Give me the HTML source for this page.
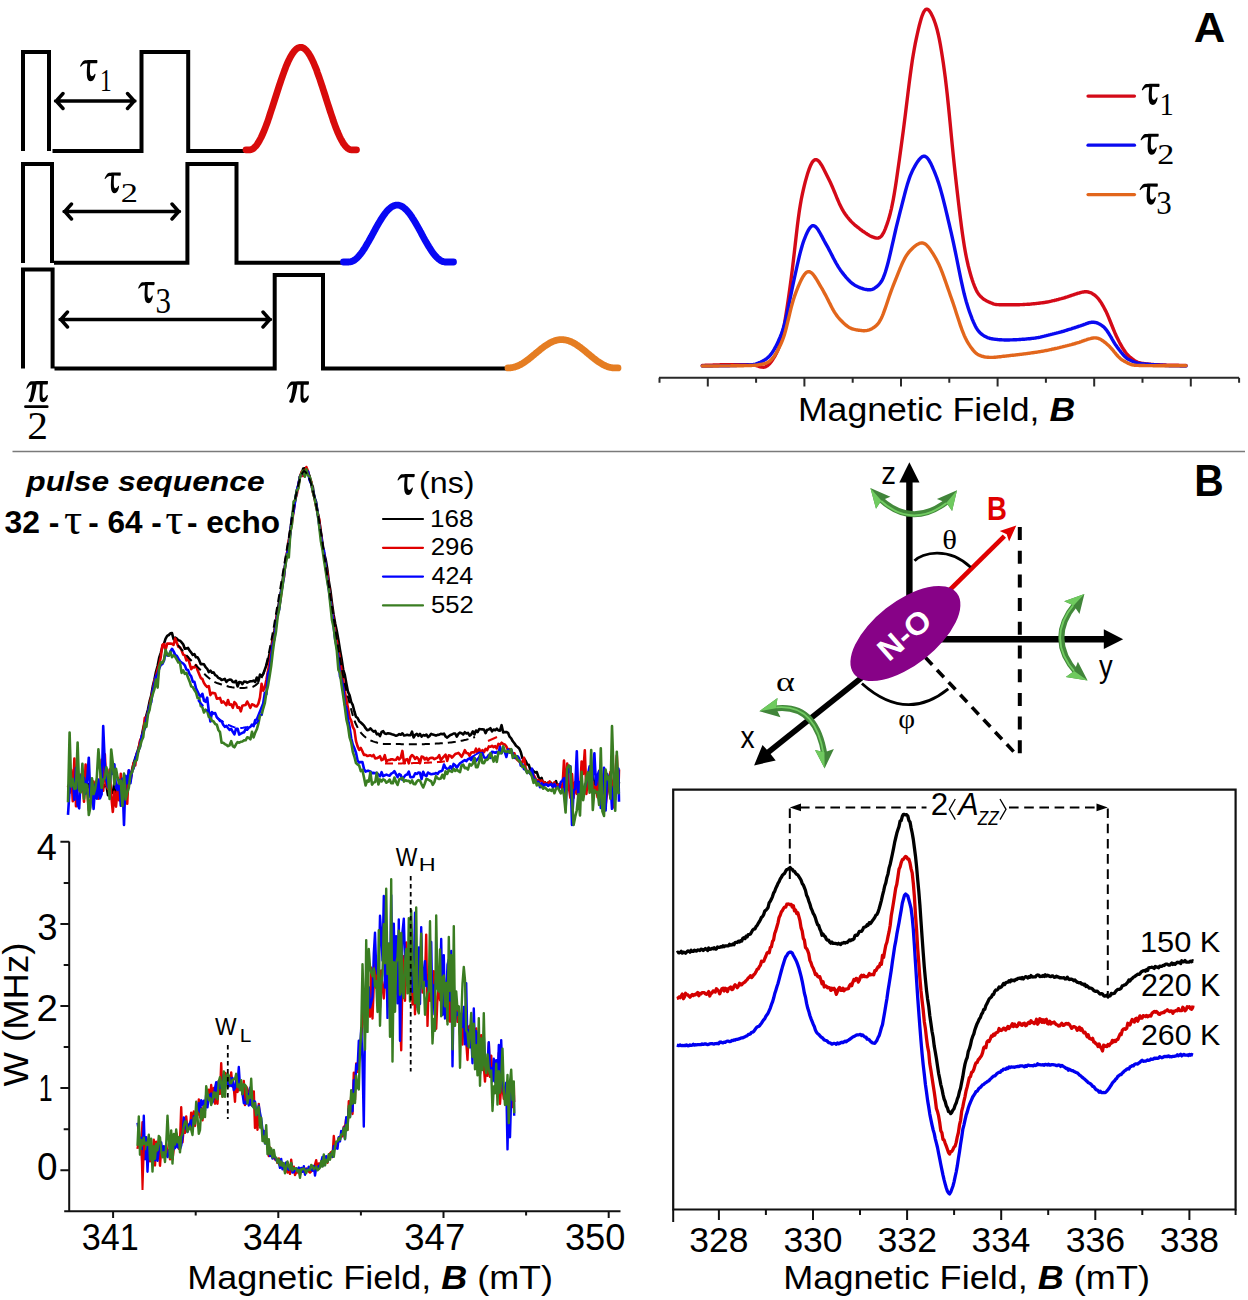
<!DOCTYPE html>
<html><head><meta charset="utf-8"><title>figure</title><style>
html,body{margin:0;padding:0;background:#fff;}
body{width:1248px;height:1300px;overflow:hidden;}
svg{display:block;}
</style></head><body>
<svg width="1248" height="1300" viewBox="0 0 1248 1300" font-family="Liberation Sans">
<path d="M23 151V52H49V151M52.5 150.9H141.5V52H188.2V150.9H246M23 263V164H52V263M54 262.7H187.4V164H236.5V262.7H344M23 368.5V269.5H52.6V368.5M54.5 368.5H274.7V275H323V368.5H509" fill="none" stroke="#000" stroke-width="4" stroke-linejoin="miter"/>
<path d="M55.5 101H135M63.0 93.5L56.3 101L63.0 108.5M127.5 93.5L134.2 101L127.5 108.5M64 211.5H179.5M71.5 204.0L64.8 211.5L71.5 219.0M172.0 204.0L178.7 211.5L172.0 219.0M60 319.5H270.5M67.5 312.0L60.8 319.5L67.5 327.0M263.0 312.0L269.7 319.5L263.0 327.0" fill="none" stroke="#000" stroke-width="3.4" stroke-linecap="round" stroke-linejoin="round"/>
<path transform="translate(80.10 60.10) scale(0.03100 0.03188)" d="M130 10C200 0 400 5 540 0C555 0 560 15 558 50C556 85 548 100 530 100L330 95C318 200 312 330 322 430C330 500 380 520 420 490C450 465 470 430 480 425C500 420 500 450 495 470C470 580 420 665 350 665C270 665 225 600 218 480C212 350 225 200 235 110C190 110 150 112 120 125C80 140 50 180 25 205C10 215 -5 195 3 180C30 120 80 30 130 10Z" fill="#000"/>
<text transform="translate(99.89 90.90) scale(0.2343 0.3136)" font-family="Liberation Serif" font-weight="normal" font-style="normal" font-size="100" fill="#000" >1</text>
<path transform="translate(104.60 172.60) scale(0.02903 0.03113)" d="M130 10C200 0 400 5 540 0C555 0 560 15 558 50C556 85 548 100 530 100L330 95C318 200 312 330 322 430C330 500 380 520 420 490C450 465 470 430 480 425C500 420 500 450 495 470C470 580 420 665 350 665C270 665 225 600 218 480C212 350 225 200 235 110C190 110 150 112 120 125C80 140 50 180 25 205C10 215 -5 195 3 180C30 120 80 30 130 10Z" fill="#000"/>
<text transform="translate(120.82 202.03) scale(0.3439 0.2687)" font-family="Liberation Serif" font-weight="normal" font-style="normal" font-size="100" fill="#000" >2</text>
<path transform="translate(138.20 282.00) scale(0.02939 0.03203)" d="M130 10C200 0 400 5 540 0C555 0 560 15 558 50C556 85 548 100 530 100L330 95C318 200 312 330 322 430C330 500 380 520 420 490C450 465 470 430 480 425C500 420 500 450 495 470C470 580 420 665 350 665C270 665 225 600 218 480C212 350 225 200 235 110C190 110 150 112 120 125C80 140 50 180 25 205C10 215 -5 195 3 180C30 120 80 30 130 10Z" fill="#000"/>
<text transform="translate(155.45 312.74) scale(0.3098 0.3552)" font-family="Liberation Serif" font-weight="normal" font-style="normal" font-size="100" fill="#000" >3</text>
<path transform="translate(26.30 381.00) scale(0.06824 0.06928)" d="M65 5C130 0 250 2 310 0C318 0 318 10 317 25C316 45 312 52 300 52L242 52C238 110 236 170 238 215C240 245 258 255 278 235L300 205C312 195 318 205 315 220C305 270 280 305 245 305C210 305 195 280 195 230C195 170 195 110 197 52L150 52C143 120 125 190 108 245C100 268 92 288 80 300C68 312 35 305 32 290C30 275 45 260 55 240C68 200 80 120 88 52C78 52 68 55 55 62C40 72 25 90 12 110C5 118 -2 108 2 100C15 60 35 20 65 5Z" fill="#000"/>
<text transform="translate(27.34 439.21) scale(0.4146 0.3925)" font-family="Liberation Serif" font-weight="normal" font-style="normal" font-size="100" fill="#000" >2</text>
<path d="M25.5 406.7H47.2" stroke="#000" stroke-width="2.8" stroke-linecap="round"/>
<path transform="translate(287.00 381.20) scale(0.06918 0.07059)" d="M65 5C130 0 250 2 310 0C318 0 318 10 317 25C316 45 312 52 300 52L242 52C238 110 236 170 238 215C240 245 258 255 278 235L300 205C312 195 318 205 315 220C305 270 280 305 245 305C210 305 195 280 195 230C195 170 195 110 197 52L150 52C143 120 125 190 108 245C100 268 92 288 80 300C68 312 35 305 32 290C30 275 45 260 55 240C68 200 80 120 88 52C78 52 68 55 55 62C40 72 25 90 12 110C5 118 -2 108 2 100C15 60 35 20 65 5Z" fill="#000"/>
<path d="M246 149.8L246.8 149.8L247.6 149.8L248.4 149.8L249.2 149.8L250 149.8L250.8 149.7L251.6 149.4L252.4 149.1L253.2 148.6L253.9 148L254.7 147.2L255.5 146.4L256.3 145.5L257.1 144.4L257.9 143.2L258.7 141.9L259.5 140.5L260.3 139L261.1 137.5L261.9 135.8L262.7 134L263.5 132.2L264.3 130.2L265.1 128.2L265.9 126.1L266.7 124L267.5 121.8L268.3 119.5L269.1 117.2L269.8 114.8L270.6 112.4L271.4 110L272.2 107.6L273 105.1L273.8 102.6L274.6 100.1L275.4 97.6L276.2 95.1L277 92.6L277.8 90.1L278.6 87.6L279.4 85.2L280.2 82.8L281 80.4L281.8 78.1L282.6 75.8L283.4 73.6L284.2 71.4L285 69.3L285.7 67.3L286.5 65.3L287.3 63.5L288.1 61.7L288.9 60L289.7 58.4L290.5 56.9L291.3 55.5L292.1 54.2L292.9 53L293.7 51.9L294.5 50.9L295.3 50L296.1 49.3L296.9 48.6L297.7 48.1L298.5 47.7L299.3 47.5L300.1 47.3L300.9 47.3L301.6 47.4L302.4 47.6L303.2 48L304 48.4L304.8 49L305.6 49.7L306.4 50.6L307.2 51.5L308 52.5L308.8 53.7L309.6 55L310.4 56.3L311.2 57.8L312 59.4L312.8 61.1L313.6 62.8L314.4 64.7L315.2 66.6L316 68.6L316.8 70.6L317.5 72.8L318.3 75L319.1 77.2L319.9 79.5L320.7 81.9L321.5 84.3L322.3 86.7L323.1 89.2L323.9 91.6L324.7 94.1L325.5 96.6L326.3 99.2L327.1 101.7L327.9 104.2L328.7 106.6L329.5 109.1L330.3 111.6L331.1 114L331.9 116.3L332.7 118.7L333.4 121L334.2 123.2L335 125.4L335.8 127.5L336.6 129.5L337.4 131.5L338.2 133.3L339 135.1L339.8 136.9L340.6 138.5L341.4 140L342.2 141.4L343 142.8L343.8 144L344.6 145.1L345.4 146.1L346.2 147L347 147.7L347.8 148.4L348.6 148.9L349.3 149.3L350.1 149.6L350.9 149.8L351.7 149.8L352.5 149.8L353.3 149.8L354.1 149.8L354.9 149.8L355.7 149.8L356.5 149.8" fill="none" stroke="#d80b0b" stroke-width="6.8" stroke-linecap="round" stroke-linejoin="round"/>
<path d="M343.5 262L344.3 262L345.1 262L345.9 262L346.7 262L347.5 262L348.2 262L349 262L349.8 261.9L350.6 261.8L351.4 261.6L352.2 261.3L353 260.9L353.8 260.5L354.6 260L355.4 259.4L356.2 258.7L357 258L357.7 257.3L358.5 256.4L359.3 255.5L360.1 254.6L360.9 253.6L361.7 252.5L362.5 251.4L363.3 250.2L364.1 249L364.9 247.8L365.7 246.5L366.4 245.2L367.2 243.8L368 242.5L368.8 241.1L369.6 239.6L370.4 238.2L371.2 236.8L372 235.3L372.8 233.9L373.6 232.4L374.4 230.9L375.2 229.5L375.9 228.1L376.7 226.6L377.5 225.2L378.3 223.9L379.1 222.5L379.9 221.2L380.7 219.9L381.5 218.6L382.3 217.4L383.1 216.2L383.9 215.1L384.7 214L385.4 213L386.2 212L387 211.1L387.8 210.2L388.6 209.4L389.4 208.7L390.2 208L391 207.4L391.8 206.8L392.6 206.4L393.4 206L394.1 205.7L394.9 205.4L395.7 205.2L396.5 205.1L397.3 205.1L398.1 205.1L398.9 205.3L399.7 205.5L400.5 205.7L401.3 206.1L402.1 206.5L402.9 207L403.6 207.5L404.4 208.2L405.2 208.9L406 209.6L406.8 210.4L407.6 211.3L408.4 212.3L409.2 213.2L410 214.3L410.8 215.4L411.6 216.5L412.3 217.7L413.1 219L413.9 220.2L414.7 221.5L415.5 222.9L416.3 224.2L417.1 225.6L417.9 227L418.7 228.5L419.5 229.9L420.3 231.4L421.1 232.8L421.8 234.3L422.6 235.7L423.4 237.2L424.2 238.6L425 240.1L425.8 241.5L426.6 242.9L427.4 244.2L428.2 245.6L429 246.9L429.8 248.1L430.6 249.4L431.3 250.6L432.1 251.7L432.9 252.8L433.7 253.8L434.5 254.8L435.3 255.8L436.1 256.7L436.9 257.5L437.7 258.2L438.5 258.9L439.3 259.6L440 260.1L440.8 260.6L441.6 261L442.4 261.4L443.2 261.6L444 261.8L444.8 262L445.6 262L446.4 262L447.2 262L448 262L448.8 262L449.5 262L450.3 262L451.1 262L451.9 262L452.7 262L453.5 262" fill="none" stroke="#0808f4" stroke-width="6.8" stroke-linecap="round" stroke-linejoin="round"/>
<path d="M508 367.9L508.8 367.9L509.6 367.9L510.4 367.8L511.2 367.7L512 367.6L512.7 367.5L513.5 367.3L514.3 367.1L515.1 366.9L515.9 366.6L516.7 366.3L517.5 366L518.3 365.7L519.1 365.3L519.9 364.9L520.7 364.5L521.5 364L522.2 363.6L523 363.1L523.8 362.6L524.6 362.1L525.4 361.5L526.2 360.9L527 360.4L527.8 359.8L528.6 359.2L529.4 358.5L530.2 357.9L530.9 357.3L531.7 356.6L532.5 356L533.3 355.3L534.1 354.7L534.9 354L535.7 353.3L536.5 352.7L537.3 352L538.1 351.4L538.9 350.7L539.7 350.1L540.4 349.4L541.2 348.8L542 348.2L542.8 347.6L543.6 347L544.4 346.4L545.2 345.8L546 345.3L546.8 344.8L547.6 344.3L548.4 343.8L549.2 343.3L549.9 342.9L550.7 342.5L551.5 342.1L552.3 341.7L553.1 341.4L553.9 341.1L554.7 340.8L555.5 340.6L556.3 340.3L557.1 340.1L557.9 340L558.6 339.8L559.4 339.7L560.2 339.7L561 339.6L561.8 339.6L562.6 339.6L563.4 339.7L564.2 339.8L565 339.9L565.8 340L566.6 340.2L567.4 340.4L568.1 340.6L568.9 340.9L569.7 341.2L570.5 341.5L571.3 341.8L572.1 342.2L572.9 342.6L573.7 343L574.5 343.5L575.3 343.9L576.1 344.4L576.8 344.9L577.6 345.5L578.4 346L579.2 346.6L580 347.2L580.8 347.7L581.6 348.4L582.4 349L583.2 349.6L584 350.2L584.8 350.9L585.6 351.5L586.3 352.2L587.1 352.9L587.9 353.5L588.7 354.2L589.5 354.8L590.3 355.5L591.1 356.2L591.9 356.8L592.7 357.5L593.5 358.1L594.3 358.7L595.1 359.3L595.8 359.9L596.6 360.5L597.4 361.1L598.2 361.7L599 362.2L599.8 362.7L600.6 363.2L601.4 363.7L602.2 364.2L603 364.6L603.8 365L604.5 365.4L605.3 365.8L606.1 366.1L606.9 366.4L607.7 366.7L608.5 367L609.3 367.2L610.1 367.4L610.9 367.5L611.7 367.7L612.5 367.8L613.3 367.8L614 367.9L614.8 367.9L615.6 367.9L616.4 367.9L617.2 367.9L618 367.9" fill="none" stroke="#e57d22" stroke-width="6.8" stroke-linecap="round" stroke-linejoin="round"/>
<path d="M702.3 365.5L703.3 365.4L704.3 365.4L705.3 365.3L706.3 365.3L707.3 365.3L708.3 365.2L709.3 365.2L710.3 365.1L711.3 365.1L712.3 365.1L713.3 365L714.3 365L715.3 365L716.3 364.9L717.3 364.9L718.3 364.9L719.3 364.9L720.3 364.8L721.3 364.8L722.3 364.8L723.3 364.8L724.3 364.8L725.3 364.7L726.3 364.7L727.3 364.7L728.3 364.7L729.3 364.7L730.3 364.7L731.3 364.7L732.3 364.7L733.3 364.6L734.3 364.6L735.3 364.6L736.3 364.6L737.3 364.6L738.3 364.6L739.3 364.6L740.3 364.6L741.3 364.6L742.3 364.6L743.3 364.6L744.3 364.6L745.3 364.6L746.3 364.6L747.3 364.6L748.3 364.6L749.3 364.6L750.3 364.6L751.3 364.7L752.3 364.8L753.3 364.9L754.3 365.1L755.3 365.4L756.3 365.6L757.3 365.9L758.3 366.2L759.3 366.5L760.3 366.8L761.3 367L762.3 367.1L763.3 367.2L764.3 367.1L765.3 366.8L766.3 366.4L767.3 365.8L768.3 365L769.3 364.1L770.3 362.9L771.3 361.7L772.3 360.3L773.3 358.7L774.3 357.1L775.3 355.3L776.3 353.4L777.3 351.3L778.3 348.9L779.3 346.3L780.3 343.1L781.3 339.5L782.3 335.2L783.3 330.3L784.3 324.9L785.3 318.9L786.3 312.6L787.3 306L788.3 299.2L789.3 292.2L790.3 285L791.3 277.4L792.3 269.6L793.3 261.3L794.3 252.6L795.3 243.8L796.3 235L797.3 226.4L798.3 218.5L799.3 211.2L800.3 204.9L801.3 199.3L802.3 194.3L803.3 189.8L804.3 185.6L805.3 181.7L806.3 178.1L807.3 174.6L808.3 171.5L809.3 168.6L810.3 166.1L811.3 164L812.3 162.2L813.3 160.9L814.3 160L815.3 159.6L816.3 159.6L817.3 160L818.3 160.8L819.3 161.8L820.3 163.2L821.3 164.7L822.3 166.4L823.3 168.3L824.3 170.2L825.3 172.2L826.3 174.2L827.3 176.2L828.3 178.2L829.3 180.2L830.3 182.3L831.3 184.5L832.3 186.8L833.3 189.1L834.3 191.5L835.3 193.9L836.3 196.3L837.3 198.8L838.3 201.1L839.3 203.4L840.3 205.5L841.3 207.5L842.3 209.4L843.3 211.2L844.3 212.8L845.3 214.3L846.3 215.6L847.3 217L848.3 218.2L849.3 219.4L850.3 220.5L851.3 221.6L852.3 222.6L853.3 223.6L854.3 224.5L855.3 225.4L856.3 226.2L857.3 227L858.3 227.7L859.3 228.5L860.3 229.3L861.3 230L862.3 230.8L863.3 231.5L864.3 232.2L865.3 232.9L866.3 233.5L867.3 234.2L868.3 234.8L869.3 235.4L870.3 235.9L871.3 236.4L872.3 236.8L873.3 237.2L874.3 237.5L875.3 237.8L876.3 238L877.3 238.1L878.3 238L879.3 237.7L880.3 237.1L881.3 236.2L882.3 234.9L883.3 233.2L884.3 231.2L885.3 228.8L886.3 226.2L887.3 223.4L888.3 220.3L889.3 216.9L890.3 213.2L891.3 209.1L892.3 204.4L893.3 199.3L894.3 193.6L895.3 187.4L896.3 180.9L897.3 174.1L898.3 167.1L899.3 159.9L900.3 152.7L901.3 145.5L902.3 138.1L903.3 130.6L904.3 122.8L905.3 114.9L906.3 106.8L907.3 98.6L908.3 90.4L909.3 82.4L910.3 74.7L911.3 67.4L912.3 60.6L913.3 54.4L914.3 48.7L915.3 43.4L916.3 38.6L917.3 34L918.3 29.6L919.3 25.5L920.3 21.7L921.3 18.3L922.3 15.3L923.3 12.9L924.3 11L925.3 9.8L926.3 9.2L927.3 9.2L928.3 9.8L929.3 10.8L930.3 12.2L931.3 13.9L932.3 15.9L933.3 18.1L934.3 20.7L935.3 23.5L936.3 26.7L937.3 30.3L938.3 34.5L939.3 39.2L940.3 44.4L941.3 50.2L942.3 56.4L943.3 63.1L944.3 70.2L945.3 77.8L946.3 86.1L947.3 95L948.3 104.5L949.3 114.5L950.3 124.8L951.3 135.3L952.3 145.6L953.3 155.6L954.3 165.2L955.3 174.5L956.3 183.5L957.3 192.3L958.3 200.9L959.3 209.3L960.3 217.5L961.3 225.3L962.3 232.7L963.3 239.6L964.3 246L965.3 251.8L966.3 257L967.3 261.7L968.3 266L969.3 269.9L970.3 273.5L971.3 276.9L972.3 280.1L973.3 283L974.3 285.7L975.3 288.1L976.3 290.2L977.3 292.1L978.3 293.7L979.3 295L980.3 296.2L981.3 297.1L982.3 298L983.3 298.8L984.3 299.5L985.3 300.1L986.3 300.7L987.3 301.2L988.3 301.7L989.3 302.2L990.3 302.6L991.3 303L992.3 303.4L993.3 303.8L994.3 304.1L995.3 304.3L996.3 304.5L997.3 304.6L998.3 304.6L999.3 304.7L1000.3 304.7L1001.3 304.7L1002.3 304.7L1003.3 304.7L1004.3 304.7L1005.3 304.7L1006.3 304.7L1007.3 304.7L1008.3 304.7L1009.3 304.7L1010.3 304.7L1011.3 304.7L1012.3 304.7L1013.3 304.7L1014.3 304.7L1015.3 304.7L1016.3 304.7L1017.3 304.7L1018.3 304.7L1019.3 304.7L1020.3 304.6L1021.3 304.6L1022.3 304.6L1023.3 304.5L1024.3 304.5L1025.3 304.4L1026.3 304.4L1027.3 304.3L1028.3 304.2L1029.3 304.2L1030.3 304.1L1031.3 304L1032.3 303.9L1033.3 303.8L1034.3 303.7L1035.3 303.6L1036.3 303.5L1037.3 303.4L1038.3 303.3L1039.3 303.2L1040.3 303L1041.3 302.9L1042.3 302.8L1043.3 302.7L1044.3 302.5L1045.3 302.3L1046.3 302.2L1047.3 302L1048.3 301.8L1049.3 301.6L1050.3 301.4L1051.3 301.2L1052.3 300.9L1053.3 300.7L1054.3 300.5L1055.3 300.2L1056.3 300L1057.3 299.7L1058.3 299.5L1059.3 299.2L1060.3 298.9L1061.3 298.7L1062.3 298.4L1063.3 298.1L1064.3 297.8L1065.3 297.5L1066.3 297.2L1067.3 296.9L1068.3 296.5L1069.3 296.2L1070.3 295.8L1071.3 295.5L1072.3 295.1L1073.3 294.8L1074.3 294.5L1075.3 294.1L1076.3 293.8L1077.3 293.5L1078.3 293.2L1079.3 293L1080.3 292.7L1081.3 292.4L1082.3 292.2L1083.3 292L1084.3 291.8L1085.3 291.7L1086.3 291.7L1087.3 291.8L1088.3 292L1089.3 292.3L1090.3 292.6L1091.3 293.1L1092.3 293.6L1093.3 294.3L1094.3 294.9L1095.3 295.7L1096.3 296.6L1097.3 297.6L1098.3 298.7L1099.3 300L1100.3 301.4L1101.3 302.9L1102.3 304.6L1103.3 306.3L1104.3 308.2L1105.3 310.1L1106.3 312.1L1107.3 314.3L1108.3 316.6L1109.3 319L1110.3 321.5L1111.3 324L1112.3 326.5L1113.3 329L1114.3 331.4L1115.3 333.8L1116.3 336L1117.3 338.1L1118.3 340.1L1119.3 342L1120.3 343.8L1121.3 345.6L1122.3 347.4L1123.3 349L1124.3 350.5L1125.3 352L1126.3 353.3L1127.3 354.5L1128.3 355.6L1129.3 356.5L1130.3 357.4L1131.3 358.2L1132.3 359L1133.3 359.7L1134.3 360.4L1135.3 361L1136.3 361.5L1137.3 362L1138.3 362.4L1139.3 362.7L1140.3 363L1141.3 363.2L1142.3 363.4L1143.3 363.5L1144.3 363.7L1145.3 363.8L1146.3 363.9L1147.3 364L1148.3 364.2L1149.3 364.2L1150.3 364.3L1151.3 364.4L1152.3 364.5L1153.3 364.5L1154.3 364.6L1155.3 364.7L1156.3 364.7L1157.3 364.7L1158.3 364.8L1159.3 364.8L1160.3 364.9L1161.3 364.9L1162.3 364.9L1163.3 365L1164.3 365L1165.3 365L1166.3 365.1L1167.3 365.1L1168.3 365.1L1169.3 365.2L1170.3 365.2L1171.3 365.2L1172.3 365.2L1173.3 365.3L1174.3 365.3L1175.3 365.3L1176.3 365.3L1177.3 365.3L1178.3 365.3L1179.3 365.4L1180.3 365.4L1181.3 365.4L1182.3 365.4L1183.3 365.4L1184.3 365.4L1185.3 365.4L1186 365.4" fill="none" stroke="#d40a18" stroke-width="3.4" stroke-linejoin="round" stroke-linecap="round"/>
<path d="M702.3 366L703.3 366L704.3 366L705.3 366L706.3 366L707.3 366L708.3 366L709.3 366L710.3 366L711.3 366L712.3 366L713.3 365.9L714.3 365.9L715.3 365.9L716.3 365.9L717.3 365.9L718.3 365.9L719.3 365.9L720.3 365.9L721.3 365.8L722.3 365.8L723.3 365.8L724.3 365.8L725.3 365.8L726.3 365.7L727.3 365.7L728.3 365.7L729.3 365.7L730.3 365.6L731.3 365.6L732.3 365.6L733.3 365.6L734.3 365.5L735.3 365.5L736.3 365.5L737.3 365.4L738.3 365.4L739.3 365.4L740.3 365.3L741.3 365.3L742.3 365.2L743.3 365.2L744.3 365.2L745.3 365.1L746.3 365.1L747.3 365L748.3 365L749.3 364.9L750.3 364.8L751.3 364.8L752.3 364.6L753.3 364.5L754.3 364.3L755.3 364.1L756.3 363.8L757.3 363.5L758.3 363.1L759.3 362.7L760.3 362.3L761.3 361.8L762.3 361.3L763.3 360.7L764.3 360.1L765.3 359.5L766.3 358.8L767.3 358L768.3 357.2L769.3 356.2L770.3 355.1L771.3 353.8L772.3 352.4L773.3 350.8L774.3 349.2L775.3 347.4L776.3 345.4L777.3 343.4L778.3 341.3L779.3 339L780.3 336.6L781.3 334L782.3 331.2L783.3 328.1L784.3 324.7L785.3 320.8L786.3 316.7L787.3 312.2L788.3 307.5L789.3 302.6L790.3 297.7L791.3 292.8L792.3 288L793.3 283.2L794.3 278.5L795.3 274L796.3 269.5L797.3 265L798.3 260.7L799.3 256.4L800.3 252.4L801.3 248.7L802.3 245.2L803.3 242.1L804.3 239.3L805.3 236.8L806.3 234.4L807.3 232.3L808.3 230.4L809.3 228.7L810.3 227.4L811.3 226.4L812.3 225.8L813.3 225.7L814.3 225.9L815.3 226.5L816.3 227.5L817.3 228.7L818.3 230.1L819.3 231.8L820.3 233.5L821.3 235.4L822.3 237.2L823.3 239.1L824.3 241L825.3 242.8L826.3 244.6L827.3 246.4L828.3 248.2L829.3 250.1L830.3 252L831.3 254L832.3 255.9L833.3 257.9L834.3 259.8L835.3 261.7L836.3 263.5L837.3 265.2L838.3 266.9L839.3 268.4L840.3 269.9L841.3 271.3L842.3 272.6L843.3 273.9L844.3 275.2L845.3 276.4L846.3 277.6L847.3 278.7L848.3 279.8L849.3 280.8L850.3 281.8L851.3 282.7L852.3 283.5L853.3 284.2L854.3 284.9L855.3 285.5L856.3 286L857.3 286.5L858.3 286.9L859.3 287.4L860.3 287.8L861.3 288.1L862.3 288.5L863.3 288.8L864.3 289.1L865.3 289.3L866.3 289.5L867.3 289.7L868.3 289.8L869.3 289.8L870.3 289.7L871.3 289.6L872.3 289.3L873.3 288.9L874.3 288.4L875.3 287.7L876.3 287L877.3 286.2L878.3 285.3L879.3 284.2L880.3 283L881.3 281.6L882.3 279.8L883.3 277.7L884.3 275.2L885.3 272.3L886.3 269L887.3 265.5L888.3 261.7L889.3 257.6L890.3 253.4L891.3 249.1L892.3 244.7L893.3 240.3L894.3 235.8L895.3 231.5L896.3 227.2L897.3 223.1L898.3 219.1L899.3 215.1L900.3 211.2L901.3 207.3L902.3 203.4L903.3 199.5L904.3 195.6L905.3 191.8L906.3 188.1L907.3 184.6L908.3 181.4L909.3 178.4L910.3 175.7L911.3 173.3L912.3 171.1L913.3 169.1L914.3 167.2L915.3 165.4L916.3 163.7L917.3 162.1L918.3 160.7L919.3 159.4L920.3 158.3L921.3 157.4L922.3 156.7L923.3 156.3L924.3 156.2L925.3 156.5L926.3 157.1L927.3 158L928.3 159.3L929.3 160.8L930.3 162.6L931.3 164.6L932.3 166.8L933.3 169.1L934.3 171.4L935.3 173.9L936.3 176.5L937.3 179.2L938.3 182.1L939.3 185.3L940.3 188.6L941.3 192.1L942.3 195.8L943.3 199.6L944.3 203.6L945.3 207.7L946.3 211.8L947.3 216L948.3 220.3L949.3 224.5L950.3 228.8L951.3 233.2L952.3 237.6L953.3 242.1L954.3 246.8L955.3 251.6L956.3 256.5L957.3 261.5L958.3 266.5L959.3 271.5L960.3 276.4L961.3 281.1L962.3 285.7L963.3 290.1L964.3 294.3L965.3 298.1L966.3 301.7L967.3 305L968.3 308.2L969.3 311.2L970.3 314L971.3 316.7L972.3 319.3L973.3 321.7L974.3 323.9L975.3 326L976.3 327.8L977.3 329.4L978.3 330.8L979.3 332L980.3 333L981.3 333.9L982.3 334.7L983.3 335.4L984.3 336L985.3 336.6L986.3 337.1L987.3 337.6L988.3 337.9L989.3 338.2L990.3 338.5L991.3 338.7L992.3 338.8L993.3 339L994.3 339.1L995.3 339.3L996.3 339.4L997.3 339.5L998.3 339.6L999.3 339.7L1000.3 339.8L1001.3 339.8L1002.3 339.9L1003.3 339.9L1004.3 340L1005.3 340L1006.3 340L1007.3 340L1008.3 340L1009.3 340L1010.3 339.9L1011.3 339.9L1012.3 339.9L1013.3 339.8L1014.3 339.8L1015.3 339.7L1016.3 339.7L1017.3 339.6L1018.3 339.6L1019.3 339.5L1020.3 339.5L1021.3 339.4L1022.3 339.3L1023.3 339.2L1024.3 339.2L1025.3 339.1L1026.3 339L1027.3 338.9L1028.3 338.8L1029.3 338.8L1030.3 338.7L1031.3 338.5L1032.3 338.4L1033.3 338.3L1034.3 338.1L1035.3 338L1036.3 337.8L1037.3 337.6L1038.3 337.5L1039.3 337.3L1040.3 337.1L1041.3 336.8L1042.3 336.6L1043.3 336.4L1044.3 336.2L1045.3 335.9L1046.3 335.7L1047.3 335.4L1048.3 335.2L1049.3 334.9L1050.3 334.7L1051.3 334.4L1052.3 334.2L1053.3 333.9L1054.3 333.7L1055.3 333.4L1056.3 333.2L1057.3 332.9L1058.3 332.7L1059.3 332.4L1060.3 332.1L1061.3 331.8L1062.3 331.5L1063.3 331.3L1064.3 331L1065.3 330.6L1066.3 330.3L1067.3 330L1068.3 329.7L1069.3 329.4L1070.3 329.1L1071.3 328.8L1072.3 328.4L1073.3 328.1L1074.3 327.8L1075.3 327.5L1076.3 327.2L1077.3 326.8L1078.3 326.5L1079.3 326.2L1080.3 325.9L1081.3 325.5L1082.3 325.2L1083.3 324.8L1084.3 324.4L1085.3 324.1L1086.3 323.7L1087.3 323.3L1088.3 323L1089.3 322.7L1090.3 322.5L1091.3 322.3L1092.3 322.2L1093.3 322.2L1094.3 322.3L1095.3 322.5L1096.3 322.7L1097.3 323L1098.3 323.4L1099.3 323.9L1100.3 324.5L1101.3 325.1L1102.3 325.8L1103.3 326.6L1104.3 327.5L1105.3 328.6L1106.3 329.8L1107.3 331.2L1108.3 332.7L1109.3 334.3L1110.3 336L1111.3 337.7L1112.3 339.5L1113.3 341.2L1114.3 342.8L1115.3 344.4L1116.3 345.8L1117.3 347.3L1118.3 348.6L1119.3 350L1120.3 351.2L1121.3 352.5L1122.3 353.7L1123.3 354.9L1124.3 356L1125.3 356.9L1126.3 357.8L1127.3 358.6L1128.3 359.3L1129.3 359.8L1130.3 360.3L1131.3 360.8L1132.3 361.2L1133.3 361.6L1134.3 361.9L1135.3 362.3L1136.3 362.6L1137.3 362.8L1138.3 363.1L1139.3 363.3L1140.3 363.5L1141.3 363.6L1142.3 363.8L1143.3 363.9L1144.3 364L1145.3 364.1L1146.3 364.2L1147.3 364.3L1148.3 364.3L1149.3 364.4L1150.3 364.5L1151.3 364.6L1152.3 364.7L1153.3 364.8L1154.3 364.8L1155.3 364.9L1156.3 365L1157.3 365L1158.3 365.1L1159.3 365.2L1160.3 365.2L1161.3 365.3L1162.3 365.3L1163.3 365.4L1164.3 365.4L1165.3 365.5L1166.3 365.5L1167.3 365.6L1168.3 365.6L1169.3 365.7L1170.3 365.7L1171.3 365.7L1172.3 365.8L1173.3 365.8L1174.3 365.8L1175.3 365.9L1176.3 365.9L1177.3 365.9L1178.3 365.9L1179.3 365.9L1180.3 366L1181.3 366L1182.3 366L1183.3 366L1184.3 366L1185.3 366L1186 366" fill="none" stroke="#0a0af0" stroke-width="3.4" stroke-linejoin="round" stroke-linecap="round"/>
<path d="M702.3 366L703.3 366L704.3 366L705.3 366L706.3 366L707.3 366L708.3 366L709.3 366L710.3 366L711.3 366L712.3 366L713.3 366L714.3 366L715.3 366L716.3 366L717.3 366L718.3 366L719.3 365.9L720.3 365.9L721.3 365.9L722.3 365.9L723.3 365.9L724.3 365.9L725.3 365.9L726.3 365.9L727.3 365.9L728.3 365.9L729.3 365.9L730.3 365.9L731.3 365.8L732.3 365.8L733.3 365.8L734.3 365.8L735.3 365.8L736.3 365.8L737.3 365.8L738.3 365.7L739.3 365.7L740.3 365.7L741.3 365.7L742.3 365.7L743.3 365.7L744.3 365.6L745.3 365.6L746.3 365.6L747.3 365.6L748.3 365.6L749.3 365.5L750.3 365.5L751.3 365.5L752.3 365.4L753.3 365.4L754.3 365.3L755.3 365.2L756.3 365.1L757.3 365L758.3 364.9L759.3 364.7L760.3 364.5L761.3 364.4L762.3 364.1L763.3 363.9L764.3 363.7L765.3 363.4L766.3 363L767.3 362.6L768.3 362.1L769.3 361.4L770.3 360.6L771.3 359.6L772.3 358.5L773.3 357.3L774.3 355.9L775.3 354.4L776.3 352.8L777.3 351.1L778.3 349.3L779.3 347.3L780.3 345.3L781.3 343.1L782.3 340.7L783.3 338L784.3 334.9L785.3 331.5L786.3 327.7L787.3 323.7L788.3 319.5L789.3 315.3L790.3 311.2L791.3 307.2L792.3 303.5L793.3 300.1L794.3 296.9L795.3 294.1L796.3 291.4L797.3 288.9L798.3 286.4L799.3 284.1L800.3 281.9L801.3 279.8L802.3 277.9L803.3 276.2L804.3 274.7L805.3 273.5L806.3 272.5L807.3 271.9L808.3 271.7L809.3 271.7L810.3 272.1L811.3 272.7L812.3 273.6L813.3 274.7L814.3 276L815.3 277.5L816.3 279L817.3 280.7L818.3 282.4L819.3 284.1L820.3 285.8L821.3 287.5L822.3 289.2L823.3 291L824.3 292.8L825.3 294.6L826.3 296.5L827.3 298.5L828.3 300.4L829.3 302.5L830.3 304.4L831.3 306.4L832.3 308.3L833.3 310.1L834.3 311.8L835.3 313.4L836.3 314.9L837.3 316.2L838.3 317.5L839.3 318.7L840.3 319.8L841.3 320.8L842.3 321.8L843.3 322.8L844.3 323.7L845.3 324.6L846.3 325.4L847.3 326.2L848.3 326.9L849.3 327.5L850.3 328L851.3 328.5L852.3 328.8L853.3 329.2L854.3 329.4L855.3 329.6L856.3 329.8L857.3 330L858.3 330.2L859.3 330.3L860.3 330.4L861.3 330.5L862.3 330.6L863.3 330.7L864.3 330.7L865.3 330.6L866.3 330.6L867.3 330.4L868.3 330.1L869.3 329.8L870.3 329.4L871.3 328.9L872.3 328.4L873.3 327.8L874.3 327.1L875.3 326.3L876.3 325.5L877.3 324.5L878.3 323.3L879.3 321.9L880.3 320.2L881.3 318.3L882.3 316.1L883.3 313.6L884.3 310.9L885.3 308.1L886.3 305.2L887.3 302.2L888.3 299.2L889.3 296.3L890.3 293.4L891.3 290.7L892.3 288L893.3 285.4L894.3 282.9L895.3 280.3L896.3 277.8L897.3 275.3L898.3 272.8L899.3 270.4L900.3 267.9L901.3 265.6L902.3 263.3L903.3 261.2L904.3 259.2L905.3 257.4L906.3 255.7L907.3 254.2L908.3 252.9L909.3 251.6L910.3 250.5L911.3 249.5L912.3 248.5L913.3 247.5L914.3 246.7L915.3 245.8L916.3 245.1L917.3 244.4L918.3 243.9L919.3 243.4L920.3 243.1L921.3 243L922.3 243L923.3 243.2L924.3 243.6L925.3 244.1L926.3 244.9L927.3 245.9L928.3 247L929.3 248.2L930.3 249.6L931.3 251.1L932.3 252.6L933.3 254.2L934.3 255.8L935.3 257.5L936.3 259.3L937.3 261.2L938.3 263.2L939.3 265.3L940.3 267.7L941.3 270.1L942.3 272.7L943.3 275.3L944.3 278.1L945.3 280.9L946.3 283.8L947.3 286.6L948.3 289.5L949.3 292.3L950.3 295.2L951.3 298L952.3 300.9L953.3 303.8L954.3 306.8L955.3 309.8L956.3 312.9L957.3 316L958.3 319L959.3 322.1L960.3 325.1L961.3 327.9L962.3 330.7L963.3 333.2L964.3 335.6L965.3 337.8L966.3 339.8L967.3 341.7L968.3 343.3L969.3 344.9L970.3 346.4L971.3 347.8L972.3 349.1L973.3 350.4L974.3 351.5L975.3 352.5L976.3 353.4L977.3 354.1L978.3 354.7L979.3 355.2L980.3 355.6L981.3 356L982.3 356.3L983.3 356.5L984.3 356.8L985.3 357L986.3 357.1L987.3 357.2L988.3 357.3L989.3 357.4L990.3 357.4L991.3 357.4L992.3 357.4L993.3 357.4L994.3 357.3L995.3 357.2L996.3 357.1L997.3 357L998.3 356.9L999.3 356.8L1000.3 356.7L1001.3 356.6L1002.3 356.4L1003.3 356.3L1004.3 356.2L1005.3 356.1L1006.3 356L1007.3 355.9L1008.3 355.8L1009.3 355.6L1010.3 355.5L1011.3 355.4L1012.3 355.3L1013.3 355.2L1014.3 355.1L1015.3 355L1016.3 354.9L1017.3 354.7L1018.3 354.6L1019.3 354.5L1020.3 354.4L1021.3 354.3L1022.3 354.1L1023.3 354L1024.3 353.9L1025.3 353.8L1026.3 353.6L1027.3 353.5L1028.3 353.4L1029.3 353.2L1030.3 353.1L1031.3 352.9L1032.3 352.8L1033.3 352.7L1034.3 352.5L1035.3 352.4L1036.3 352.2L1037.3 352.1L1038.3 351.9L1039.3 351.7L1040.3 351.6L1041.3 351.4L1042.3 351.2L1043.3 351.1L1044.3 350.9L1045.3 350.7L1046.3 350.5L1047.3 350.3L1048.3 350.1L1049.3 349.9L1050.3 349.7L1051.3 349.5L1052.3 349.2L1053.3 349L1054.3 348.8L1055.3 348.5L1056.3 348.3L1057.3 348.1L1058.3 347.8L1059.3 347.6L1060.3 347.3L1061.3 347.1L1062.3 346.9L1063.3 346.6L1064.3 346.3L1065.3 346.1L1066.3 345.8L1067.3 345.6L1068.3 345.3L1069.3 345.1L1070.3 344.8L1071.3 344.6L1072.3 344.3L1073.3 344L1074.3 343.8L1075.3 343.5L1076.3 343.2L1077.3 342.9L1078.3 342.6L1079.3 342.3L1080.3 341.9L1081.3 341.6L1082.3 341.2L1083.3 340.8L1084.3 340.5L1085.3 340.1L1086.3 339.8L1087.3 339.4L1088.3 339.1L1089.3 338.8L1090.3 338.6L1091.3 338.3L1092.3 338.2L1093.3 338L1094.3 337.9L1095.3 337.9L1096.3 338L1097.3 338.1L1098.3 338.4L1099.3 338.8L1100.3 339.3L1101.3 339.8L1102.3 340.5L1103.3 341.2L1104.3 342L1105.3 342.7L1106.3 343.5L1107.3 344.4L1108.3 345.3L1109.3 346.2L1110.3 347.3L1111.3 348.4L1112.3 349.5L1113.3 350.7L1114.3 352L1115.3 353.2L1116.3 354.4L1117.3 355.5L1118.3 356.6L1119.3 357.6L1120.3 358.5L1121.3 359.3L1122.3 360L1123.3 360.6L1124.3 361.2L1125.3 361.8L1126.3 362.3L1127.3 362.9L1128.3 363.3L1129.3 363.8L1130.3 364.2L1131.3 364.5L1132.3 364.8L1133.3 365L1134.3 365.2L1135.3 365.3L1136.3 365.4L1137.3 365.4L1138.3 365.4L1139.3 365.5L1140.3 365.5L1141.3 365.5L1142.3 365.5L1143.3 365.5L1144.3 365.5L1145.3 365.6L1146.3 365.6L1147.3 365.6L1148.3 365.6L1149.3 365.6L1150.3 365.6L1151.3 365.6L1152.3 365.6L1153.3 365.7L1154.3 365.7L1155.3 365.7L1156.3 365.7L1157.3 365.7L1158.3 365.7L1159.3 365.7L1160.3 365.7L1161.3 365.7L1162.3 365.7L1163.3 365.7L1164.3 365.7L1165.3 365.7L1166.3 365.8L1167.3 365.8L1168.3 365.8L1169.3 365.8L1170.3 365.8L1171.3 365.8L1172.3 365.8L1173.3 365.8L1174.3 365.8L1175.3 365.8L1176.3 365.8L1177.3 365.8L1178.3 365.8L1179.3 365.8L1180.3 365.8L1181.3 365.8L1182.3 365.8L1183.3 365.8L1184.3 365.8L1185.3 365.8L1186 365.8" fill="none" stroke="#e2661c" stroke-width="3.4" stroke-linejoin="round" stroke-linecap="round"/>
<path d="M659 377.8H1239M659.5 377.8V382.7M707.8 377.8V386.5M756.1 377.8V382.7M804.4 377.8V386.5M852.7 377.8V382.7M901 377.8V386.5M949.3 377.8V382.7M997.6 377.8V386.5M1045.9 377.8V382.7M1094.2 377.8V386.5M1142.5 377.8V382.7M1190.8 377.8V386.5M1239.1 377.8V382.7" stroke="#2a2a2a" stroke-width="2" fill="none"/>
<text transform="translate(797.95 421.03) scale(0.3563 0.3319)" font-family="Liberation Sans" font-weight="normal" font-style="normal" font-size="100" fill="#000" >Magnetic Field, <tspan font-weight="bold" font-style="italic">B</tspan></text>
<text transform="translate(1193.69 42.30) scale(0.4364 0.4300)" font-family="Liberation Sans" font-weight="bold" font-style="normal" font-size="100" fill="#000" >A</text>
<path d="M1088 96.1H1134.5" stroke="#d40a18" stroke-width="3.2" stroke-linecap="round"/>
<path transform="translate(1141.80 83.80) scale(0.03172 0.03188)" d="M130 10C200 0 400 5 540 0C555 0 560 15 558 50C556 85 548 100 530 100L330 95C318 200 312 330 322 430C330 500 380 520 420 490C450 465 470 430 480 425C500 420 500 450 495 470C470 580 420 665 350 665C270 665 225 600 218 480C212 350 225 200 235 110C190 110 150 112 120 125C80 140 50 180 25 205C10 215 -5 195 3 180C30 120 80 30 130 10Z" fill="#000"/>
<text transform="translate(1159.43 115.00) scale(0.2857 0.3182)" font-family="Liberation Serif" font-weight="normal" font-style="normal" font-size="100" fill="#000" >1</text>
<path d="M1088 145.2H1134.5" stroke="#0a0af0" stroke-width="3.2" stroke-linecap="round"/>
<path transform="translate(1140.60 133.70) scale(0.03244 0.03173)" d="M130 10C200 0 400 5 540 0C555 0 560 15 558 50C556 85 548 100 530 100L330 95C318 200 312 330 322 430C330 500 380 520 420 490C450 465 470 430 480 425C500 420 500 450 495 470C470 580 420 665 350 665C270 665 225 600 218 480C212 350 225 200 235 110C190 110 150 112 120 125C80 140 50 180 25 205C10 215 -5 195 3 180C30 120 80 30 130 10Z" fill="#000"/>
<text transform="translate(1157.33 163.70) scale(0.3415 0.3015)" font-family="Liberation Serif" font-weight="normal" font-style="normal" font-size="100" fill="#000" >2</text>
<path d="M1088 194.6H1134.5" stroke="#e2661c" stroke-width="3.2" stroke-linecap="round"/>
<path transform="translate(1139.60 183.60) scale(0.03262 0.03173)" d="M130 10C200 0 400 5 540 0C555 0 560 15 558 50C556 85 548 100 530 100L330 95C318 200 312 330 322 430C330 500 380 520 420 490C450 465 470 430 480 425C500 420 500 450 495 470C470 580 420 665 350 665C270 665 225 600 218 480C212 350 225 200 235 110C190 110 150 112 120 125C80 140 50 180 25 205C10 215 -5 195 3 180C30 120 80 30 130 10Z" fill="#000"/>
<text transform="translate(1156.25 213.66) scale(0.3098 0.3403)" font-family="Liberation Serif" font-weight="normal" font-style="normal" font-size="100" fill="#000" >3</text>
<path d="M12.5 451.5H1245" stroke="#7a7a7a" stroke-width="1.7"/>
<text transform="translate(26.24 490.96) scale(0.3179 0.2734)" font-family="Liberation Sans" font-weight="bold" font-style="italic" font-size="100" fill="#000" >pulse sequence</text>
<text transform="translate(4.46 532.68) scale(0.3187 0.3169)" font-family="Liberation Sans" font-weight="bold" font-style="normal" font-size="100" fill="#000" >32 -</text>
<text transform="translate(64.09 534.46) scale(0.4528 0.4362)" font-family="Liberation Serif" font-weight="normal" font-style="normal" font-size="100" fill="#000" >τ</text>
<text transform="translate(88.24 532.68) scale(0.3151 0.3169)" font-family="Liberation Sans" font-weight="bold" font-style="normal" font-size="100" fill="#000" >- 64 -</text>
<text transform="translate(165.30 534.46) scale(0.4500 0.4362)" font-family="Liberation Serif" font-weight="normal" font-style="normal" font-size="100" fill="#000" >τ</text>
<text transform="translate(186.94 532.69) scale(0.3160 0.3135)" font-family="Liberation Sans" font-weight="bold" font-style="normal" font-size="100" fill="#000" >- echo</text>
<path transform="translate(397.50 474.00) scale(0.03082 0.03158)" d="M130 10C200 0 400 5 540 0C555 0 560 15 558 50C556 85 548 100 530 100L330 95C318 200 312 330 322 430C330 500 380 520 420 490C450 465 470 430 480 425C500 420 500 450 495 470C470 580 420 665 350 665C270 665 225 600 218 480C212 350 225 200 235 110C190 110 150 112 120 125C80 140 50 180 25 205C10 215 -5 195 3 180C30 120 80 30 130 10Z" fill="#000"/>
<text transform="translate(419.07 492.74) scale(0.3219 0.2979)" font-family="Liberation Sans" font-weight="normal" font-style="normal" font-size="100" fill="#000" >(ns)</text>
<text transform="translate(429.91 526.77) scale(0.2613 0.2338)" font-family="Liberation Sans" font-weight="normal" font-style="normal" font-size="100" fill="#000" >168</text>
<path d="M383 519.0H423" stroke="#000" stroke-width="2.2" stroke-linecap="round"/>
<text transform="translate(430.71 555.47) scale(0.2580 0.2338)" font-family="Liberation Sans" font-weight="normal" font-style="normal" font-size="100" fill="#000" >296</text>
<path d="M383 547.8H423" stroke="#e00000" stroke-width="2.2" stroke-linecap="round"/>
<text transform="translate(431.50 584.40) scale(0.2500 0.2371)" font-family="Liberation Sans" font-weight="normal" font-style="normal" font-size="100" fill="#000" >424</text>
<path d="M383 576.6H423" stroke="#0000ff" stroke-width="2.2" stroke-linecap="round"/>
<text transform="translate(430.97 612.87) scale(0.2563 0.2338)" font-family="Liberation Sans" font-weight="normal" font-style="normal" font-size="100" fill="#000" >552</text>
<path d="M383 605.4H423" stroke="#3a7d22" stroke-width="2.2" stroke-linecap="round"/>
<path d="M68 786.1L69.6 784.5L71.2 787.6L72.8 782.9L74.4 787.9L76 787L77.6 785.7L79.2 782.4L80.8 779L82.4 780.1L84 788.6L85.6 786.8L87.2 787.1L88.8 784.1L90.4 790.9L92 781.2L93.6 787.9L95.2 787.8L96.8 790.4L98.4 789.5L100 785.5L101.6 786L103.2 787.7L104.8 785L106.4 785.6L108 795.3L109.6 787.3L111.2 791.6L112.8 792.9L114.4 782.8L116 797.8L117.6 787.2L119.2 784L120.8 784.5L122.4 785.1L124 778.9L125.6 780.6L127.2 780.4L128.8 775.8L130.4 778.8L132 770.1L133.6 763.6L135.2 758.5L136.8 753.9L138.4 748.5L140 742.2L141.6 737.1L143.2 728.5L144.8 722.3L146.4 715.3L148 709.5L149.6 701.4L151.2 695.7L152.8 686.4L154.4 679.8L156 671.8L157.6 666.1L159.2 657.7L160.8 652.9L162.4 646.9L164 643.6L165.6 638.7L167.2 635.9L168.8 635L170.4 633.3L172 633.1L173.6 639.3L175.2 637.6L176.8 638.6L178.4 640.3L180 640.7L181.6 642.4L183.2 644.3L184.8 648.7L186.4 648.4L188 647.9L189.6 650.5L191.2 652.6L192.8 654.9L194.4 654.2L196 657.3L197.6 657.3L199.2 660.2L200.8 664.3L202.4 664.1L204 664.3L205.6 667.2L207.2 668.8L208.8 672.1L210.4 670.6L212 672.8L213.6 672.4L215.2 675.1L216.8 675.9L218.4 678.1L220 678.5L221.6 680L223.2 679.5L224.8 678.9L226.4 682L228 680.2L229.6 679.6L231.2 679.8L232.8 681.9L234.4 682.2L236 680.8L237.6 686.5L239.2 682L240.8 682.2L242.4 684.1L244 681.6L245.6 681.7L247.2 682.7L248.8 681.9L250.4 681.2L252 681.2L253.6 680.6L255.2 682L256.8 677.5L258.4 681.2L260 674.6L261.6 676.3L263.2 674.1L264.8 669.6L266.4 665.2L268 660.8L269.6 653.5L271.2 647.9L272.8 638L274.4 630.8L276 619.9L277.6 611.4L279.2 601.1L280.8 592.6L282.4 581.8L284 571.4L285.6 562.8L287.2 552.5L288.8 541.4L290.4 529.7L292 517.1L293.6 508.5L295.2 499.1L296.8 490.8L298.4 485.3L300 476.6L301.6 473.8L303.2 468.6L304.8 468.4L306.4 472.5L308 472.2L309.6 476.2L311.2 482.9L312.8 487L314.4 497.8L316 501.5L317.6 512.4L319.2 520.7L320.8 531.5L322.4 542.9L324 553.1L325.6 559L327.2 568.5L328.8 581.3L330.4 590.5L332 603.5L333.6 614.8L335.2 623.6L336.8 631.1L338.4 640.1L340 650L341.6 659L343.2 669.5L344.8 674.9L346.4 683.7L348 691.9L349.6 695.3L351.2 702L352.8 705.2L354.4 711.5L356 716.8L357.6 718L359.2 721.2L360.8 722.5L362.4 724L364 725.6L365.6 728.2L367.2 730.1L368.8 729.9L370.4 728.4L372 730.1L373.6 731.7L375.2 730.9L376.8 734.3L378.4 733.7L380 736.1L381.6 732L383.2 731.2L384.8 733.5L386.4 733.9L388 733.2L389.6 733.5L391.2 734L392.8 734.6L394.4 735.1L396 735.7L397.6 735.2L399.2 734.1L400.8 734.8L402.4 733.3L404 735.5L405.6 735.3L407.2 734.8L408.8 735.2L410.4 735.2L412 731.7L413.6 737.5L415.2 734.8L416.8 733.9L418.4 735.8L420 733.9L421.6 736.6L423.2 735.1L424.8 735.6L426.4 734.5L428 737.2L429.6 735.9L431.2 733.8L432.8 734.6L434.4 735L436 735.6L437.6 734.9L439.2 734.7L440.8 733.8L442.4 734.3L444 733.7L445.6 736.5L447.2 737.6L448.8 736.3L450.4 735L452 734.5L453.6 733.5L455.2 733.5L456.8 736.7L458.4 733.8L460 732.6L461.6 733.2L463.2 734.4L464.8 732.2L466.4 733.5L468 732.9L469.6 735.6L471.2 734.4L472.8 731.4L474.4 734.5L476 730.5L477.6 732.1L479.2 729.1L480.8 729.3L482.4 729.4L484 729.5L485.6 733.1L487.2 729.8L488.8 729.4L490.4 728.2L492 731.3L493.6 729.5L495.2 730.2L496.8 728.7L498.4 730.5L500 730.6L501.6 725.2L503.2 732.5L504.8 732.1L506.4 732L508 732.8L509.6 736.7L511.2 738.3L512.8 741.3L514.4 743.3L516 745.8L517.6 747L519.2 748.5L520.8 752L522.4 758.1L524 758.6L525.6 760.8L527.2 764.4L528.8 764.8L530.4 770.2L532 769.2L533.6 771.2L535.2 772.6L536.8 772.1L538.4 776.9L540 779.4L541.6 777.8L543.2 783.9L544.8 782.1L546.4 784.3L548 782.6L549.6 782.9L551.2 782.8L552.8 786.3L554.4 783.7L556 781.1L557.6 786.6L559.2 784.4L560.8 785L562.4 787.3L564 785.4L565.6 786.3L567.2 787.6L568.8 789.6L570.4 790L572 786.8L573.6 788.9L575.2 787.7L576.8 790.4L578.4 784.5L580 789.4L581.6 782L583.2 792.7L584.8 789.4L586.4 782.3L588 787.4L589.6 778L591.2 787.1L592.8 776.1L594.4 784.4L596 781.1L597.6 786.2L599.2 785.3L600.8 785.1L602.4 785.6L604 781.7L605.6 777.4L607.2 776.8L608.8 786.3L610.4 796.5L612 786.5L613.6 789.8L615.2 788.6L616.8 784L618.4 785.4L619 782" fill="none" stroke="#000" stroke-width="2.6" stroke-linejoin="round"/>
<path d="M68 785.9L69.6 792.8L71.2 769.9L72.8 801.1L74.4 758.6L76 806.3L77.6 785.3L79.2 779.8L80.8 774.7L82.4 777.4L84 801.6L85.6 764.6L87.2 789.5L88.8 810L90.4 801L92 796.6L93.6 781.6L95.2 790.9L96.8 797.6L98.4 798.6L100 788.8L101.6 759.8L103.2 790.8L104.8 754.3L106.4 785.4L108 788.9L109.6 769.6L111.2 795L112.8 812L114.4 791.7L116 806.6L117.6 789.3L119.2 800.4L120.8 773.9L122.4 788.1L124 781.3L125.6 781.9L127.2 803.7L128.8 770.9L130.4 781L132 771.6L133.6 762.8L135.2 765.5L136.8 753.4L138.4 751.5L140 740.9L141.6 737.5L143.2 731.6L144.8 717.8L146.4 717.4L148 712.7L149.6 705.7L151.2 697.2L152.8 690.2L154.4 680.8L156 676.4L157.6 669.4L159.2 664.5L160.8 656.9L162.4 644.9L164 644L165.6 649.8L167.2 643.6L168.8 643.6L170.4 643.6L172 643.8L173.6 644.8L175.2 638.4L176.8 642.8L178.4 646.9L180 647.5L181.6 650.2L183.2 654.6L184.8 655.4L186.4 660.4L188 657.1L189.6 663.7L191.2 669.2L192.8 667L194.4 667.4L196 665L197.6 670.3L199.2 674.2L200.8 678.1L202.4 679L204 683.1L205.6 685.4L207.2 687L208.8 686.1L210.4 695.1L212 692.8L213.6 693.1L215.2 693.6L216.8 698.7L218.4 698.4L220 697.9L221.6 702.7L223.2 701.4L224.8 703.2L226.4 705.2L228 700L229.6 704.8L231.2 704.4L232.8 707.8L234.4 702.1L236 703.6L237.6 707.7L239.2 707.3L240.8 711.3L242.4 705.7L244 705.3L245.6 704.9L247.2 701.5L248.8 704.6L250.4 707.8L252 704.3L253.6 704.9L255.2 706.1L256.8 706.4L258.4 703.6L260 697.4L261.6 683.7L263.2 690.8L264.8 687.4L266.4 679.8L268 670.9L269.6 662.8L271.2 651L272.8 641.1L274.4 636.1L276 622L277.6 610.5L279.2 606.9L280.8 597.3L282.4 583.5L284 577.2L285.6 560.7L287.2 551.9L288.8 540.8L290.4 532.4L292 521.7L293.6 511.3L295.2 499.4L296.8 494.3L298.4 485.4L300 476.7L301.6 471.9L303.2 475.9L304.8 472.9L306.4 467.1L308 471.2L309.6 478.7L311.2 481.4L312.8 492L314.4 497.5L316 505.7L317.6 513.1L319.2 519.2L320.8 533.5L322.4 546.9L324 553.3L325.6 566.6L327.2 572.3L328.8 586.7L330.4 597.5L332 609.5L333.6 620.2L335.2 631.5L336.8 641L338.4 649.7L340 659L341.6 670.4L343.2 680L344.8 691.5L346.4 699.9L348 708L349.6 717.5L351.2 720.7L352.8 726.8L354.4 729.9L356 741.1L357.6 746.4L359.2 750L360.8 748L362.4 751.3L364 755L365.6 754.7L367.2 755.9L368.8 755.6L370.4 755.2L372 756.3L373.6 755L375.2 758.4L376.8 758.2L378.4 757.5L380 756.2L381.6 760.2L383.2 759.4L384.8 755.2L386.4 761.8L388 760L389.6 760L391.2 759.3L392.8 759.4L394.4 760L396 759.7L397.6 757.2L399.2 759.5L400.8 757.6L402.4 750.9L404 763.1L405.6 759.7L407.2 759.1L408.8 763.4L410.4 757.1L412 755L413.6 756.5L415.2 759L416.8 757.2L418.4 758.8L420 763.2L421.6 756.5L423.2 756.9L424.8 759.5L426.4 757.8L428 760.3L429.6 758.2L431.2 757.9L432.8 757.9L434.4 759.1L436 758.3L437.6 757.6L439.2 755.1L440.8 760.2L442.4 758.2L444 756.4L445.6 754.7L447.2 760.9L448.8 755.4L450.4 755.7L452 757.6L453.6 755.8L455.2 754.1L456.8 753.6L458.4 752.9L460 754.7L461.6 756.8L463.2 753.9L464.8 750.2L466.4 753L468 753.3L469.6 755.8L471.2 752.5L472.8 752.2L474.4 752.4L476 748.7L477.6 753L479.2 748.9L480.8 752.6L482.4 750.1L484 752.2L485.6 748.9L487.2 750.1L488.8 746.4L490.4 746.8L492 745.8L493.6 747.2L495.2 746.2L496.8 748.5L498.4 743.9L500 744.7L501.6 742.7L503.2 744L504.8 744.4L506.4 746.6L508 749.9L509.6 749.2L511.2 752.6L512.8 753.9L514.4 753.3L516 758.3L517.6 760L519.2 761.5L520.8 762.1L522.4 761.7L524 757.8L525.6 768L527.2 771.7L528.8 771.2L530.4 773.4L532 774.7L533.6 775L535.2 777.9L536.8 781.3L538.4 779.8L540 781.4L541.6 780.4L543.2 782.2L544.8 782.4L546.4 783.8L548 783.7L549.6 781.4L551.2 784.7L552.8 786.1L554.4 782.3L556 788.2L557.6 784.7L559.2 787.5L560.8 785.3L562.4 788.8L564 760.5L565.6 799L567.2 763.6L568.8 787L570.4 797.7L572 774L573.6 797.9L575.2 782L576.8 793.9L578.4 785.8L580 794.6L581.6 761.6L583.2 773.9L584.8 750.3L586.4 794L588 775.5L589.6 778.2L591.2 791.8L592.8 781.9L594.4 793.2L596 785.8L597.6 797.4L599.2 770.8L600.8 794L602.4 786.1L604 773.6L605.6 805.2L607.2 791.9L608.8 785.2L610.4 772.1L612 782.5L613.6 807.3L615.2 776.9L616.8 755.6L618.4 791.4L619 769.5" fill="none" stroke="#e00000" stroke-width="2.6" stroke-linejoin="round"/>
<path d="M68 814.8L69.6 789.7L71.2 779.1L72.8 779.7L74.4 799.6L76 768L77.6 804.8L79.2 808.3L80.8 775.5L82.4 790L84 778L85.6 793.6L87.2 779.1L88.8 757.7L90.4 797.1L92 791.6L93.6 809L95.2 784.5L96.8 798.6L98.4 779.5L100 798.4L101.6 794.3L103.2 726L104.8 763.5L106.4 779.5L108 787.1L109.6 786L111.2 767.3L112.8 773.9L114.4 764.3L116 787.5L117.6 790L119.2 780L120.8 805.7L122.4 778.8L124 825L125.6 775.7L127.2 783.2L128.8 770.4L130.4 783.3L132 771.5L133.6 768.2L135.2 759.8L136.8 753.6L138.4 750.6L140 746.9L141.6 736.8L143.2 732.6L144.8 728.3L146.4 719.3L148 712.8L149.6 705.6L151.2 702.2L152.8 690.5L154.4 683.6L156 676.5L157.6 673.9L159.2 668.6L160.8 664.7L162.4 664.1L164 660.4L165.6 652.3L167.2 655.4L168.8 655.6L170.4 651.5L172 648.8L173.6 651.4L175.2 654.9L176.8 655.8L178.4 658.7L180 661.3L181.6 662.5L183.2 663.5L184.8 665.3L186.4 669.5L188 669.9L189.6 674.3L191.2 676.4L192.8 681.6L194.4 681.8L196 688.3L197.6 691.6L199.2 695L200.8 696.4L202.4 693.8L204 700.6L205.6 701.8L207.2 697.6L208.8 711.2L210.4 721.5L212 712.1L213.6 713.6L215.2 713.1L216.8 717.2L218.4 718.8L220 720.9L221.6 721.3L223.2 724.8L224.8 726.8L226.4 725.9L228 728L229.6 729.9L231.2 728.9L232.8 731.8L234.4 734.4L236 728.8L237.6 728.7L239.2 734.6L240.8 733.7L242.4 732.8L244 732.3L245.6 729.1L247.2 729.7L248.8 727.7L250.4 726.9L252 724.5L253.6 726.2L255.2 720.2L256.8 719.4L258.4 715.6L260 711.6L261.6 707.4L263.2 703.4L264.8 692.9L266.4 694.2L268 673.5L269.6 669.8L271.2 657.1L272.8 644.3L274.4 639.4L276 625L277.6 614L279.2 609.4L280.8 594.6L282.4 586L284 575.9L285.6 560.8L287.2 553.2L288.8 548.6L290.4 531.8L292 518.1L293.6 511.2L295.2 500.5L296.8 490.8L298.4 484.2L300 476.5L301.6 474L303.2 473.7L304.8 472.1L306.4 471.9L308 471.6L309.6 480.2L311.2 483.7L312.8 490.7L314.4 496.6L316 503.2L317.6 512.7L319.2 525.2L320.8 534.6L322.4 547.6L324 550.6L325.6 566.9L327.2 578L328.8 589.6L330.4 600.7L332 612.3L333.6 626.2L335.2 639.5L336.8 647.4L338.4 657.4L340 676.5L341.6 679.8L343.2 687L344.8 704.4L346.4 708.3L348 719.6L349.6 727.1L351.2 738.3L352.8 744.5L354.4 748.3L356 752.8L357.6 760.6L359.2 762.6L360.8 762.1L362.4 762L364 768.9L365.6 771.6L367.2 770.8L368.8 770.9L370.4 771.4L372 773.1L373.6 772.9L375.2 773.2L376.8 772.8L378.4 774.7L380 776.3L381.6 772.2L383.2 776.2L384.8 775.3L386.4 774.6L388 775.2L389.6 775.7L391.2 773.6L392.8 772.9L394.4 771.2L396 774.2L397.6 777.1L399.2 774L400.8 775.1L402.4 779.7L404 777L405.6 775L407.2 774.5L408.8 771.6L410.4 777.2L412 777.3L413.6 776.7L415.2 773.3L416.8 773.9L418.4 772.6L420 772.9L421.6 779.1L423.2 771.7L424.8 775.2L426.4 776.1L428 772.5L429.6 773.5L431.2 774.3L432.8 773.9L434.4 773.8L436 773L437.6 774L439.2 771.7L440.8 771.3L442.4 770.3L444 764.6L445.6 767.8L447.2 769.1L448.8 768.5L450.4 766.3L452 769L453.6 763.9L455.2 765.2L456.8 767.7L458.4 765.3L460 763.3L461.6 762.2L463.2 761.1L464.8 760.1L466.4 761.1L468 759.2L469.6 758.3L471.2 760L472.8 757.1L474.4 757.8L476 761L477.6 759.2L479.2 757.2L480.8 753.4L482.4 753.1L484 757.4L485.6 758.2L487.2 757.5L488.8 754.9L490.4 757.9L492 751.9L493.6 752.1L495.2 752.8L496.8 751.8L498.4 753.6L500 746.9L501.6 753.1L503.2 749L504.8 751.9L506.4 757L508 749.5L509.6 752.7L511.2 749.7L512.8 754.2L514.4 757.9L516 756.2L517.6 756.3L519.2 758.5L520.8 765.6L522.4 764.4L524 769L525.6 769.6L527.2 772.4L528.8 771.9L530.4 773.8L532 768.7L533.6 778.7L535.2 779.1L536.8 783.2L538.4 781.7L540 787.2L541.6 783.2L543.2 786.2L544.8 784.6L546.4 784.3L548 785.8L549.6 784.8L551.2 784.2L552.8 787.1L554.4 784.2L556 786.8L557.6 787.3L559.2 788.3L560.8 782L562.4 780.8L564 778.2L565.6 809.1L567.2 773.9L568.8 770.4L570.4 766.3L572 825L573.6 790.7L575.2 788.7L576.8 751.2L578.4 800.4L580 782L581.6 791.5L583.2 794.1L584.8 788L586.4 781.8L588 774.6L589.6 766.2L591.2 787.5L592.8 775.3L594.4 753.3L596 784.8L597.6 775.3L599.2 771L600.8 807.9L602.4 793.1L604 767.8L605.6 810.5L607.2 774L608.8 779.4L610.4 781.3L612 808.8L613.6 786.8L615.2 799.7L616.8 779.3L618.4 768.6L619 801.8" fill="none" stroke="#0000ff" stroke-width="2.6" stroke-linejoin="round"/>
<path d="M68 802.3L69.6 732.6L71.2 786.5L72.8 779L74.4 788.9L76 788.2L77.6 742.5L79.2 789.7L80.8 792.3L82.4 763.9L84 798.8L85.6 784.3L87.2 785.6L88.8 815L90.4 807.2L92 778.3L93.6 794L95.2 788.9L96.8 777.7L98.4 749.3L100 768.7L101.6 788L103.2 779.5L104.8 778.2L106.4 767.3L108 775.5L109.6 798.9L111.2 749.5L112.8 762.9L114.4 784.4L116 768.7L117.6 777.4L119.2 783.7L120.8 780.6L122.4 806L124 773.6L125.6 799.4L127.2 792.7L128.8 787.8L130.4 774.8L132 772.3L133.6 766.8L135.2 761.1L136.8 760.1L138.4 751L140 746.8L141.6 740.7L143.2 737.3L144.8 723.3L146.4 726.8L148 714.3L149.6 709.8L151.2 699.6L152.8 694.2L154.4 689.2L156 679.6L157.6 687.6L159.2 667.3L160.8 662.3L162.4 663L164 659.7L165.6 649.9L167.2 654.4L168.8 655.6L170.4 651.9L172 657.2L173.6 655.4L175.2 656.8L176.8 659.6L178.4 662.5L180 662.6L181.6 672.9L183.2 670.4L184.8 673.9L186.4 672.8L188 677.6L189.6 681.4L191.2 686.4L192.8 687.2L194.4 690L196 692.5L197.6 698.2L199.2 698.1L200.8 705.9L202.4 707.3L204 712.5L205.6 709.7L207.2 711L208.8 716.8L210.4 717.6L212 720.8L213.6 721.5L215.2 724L216.8 724.7L218.4 730L220 732.1L221.6 742.7L223.2 742.7L224.8 744.1L226.4 744.9L228 746.1L229.6 745.3L231.2 741.1L232.8 746.1L234.4 747.3L236 744.3L237.6 742.1L239.2 742.7L240.8 741.8L242.4 741.5L244 740.4L245.6 740.3L247.2 737.3L248.8 737.8L250.4 739.4L252 731.8L253.6 737.4L255.2 732.6L256.8 729.3L258.4 723.7L260 715.5L261.6 714.9L263.2 708.5L264.8 703.2L266.4 692.3L268 685.7L269.6 676.3L271.2 665.9L272.8 651.8L274.4 639.9L276 631.4L277.6 617.3L279.2 609.1L280.8 598.1L282.4 587.3L284 573.4L285.6 564.5L287.2 554.3L288.8 557.4L290.4 531.8L292 524.1L293.6 501.5L295.2 500.2L296.8 490.1L298.4 488.6L300 477L301.6 473L303.2 470.6L304.8 476.7L306.4 469.3L308 475.3L309.6 476.5L311.2 482.3L312.8 491.4L314.4 497.6L316 505.8L317.6 513.2L319.2 526.1L320.8 540.7L322.4 549L324 560L325.6 570.4L327.2 580.9L328.8 589.7L330.4 605L332 620.2L333.6 627.2L335.2 640.3L336.8 650.6L338.4 669.8L340 673L341.6 685.4L343.2 695.9L344.8 706.9L346.4 719.4L348 726.1L349.6 737.3L351.2 742.3L352.8 751.9L354.4 756.8L356 763.1L357.6 764.5L359.2 765.6L360.8 771.1L362.4 769.9L364 777.5L365.6 785.5L367.2 780.6L368.8 781.6L370.4 772.2L372 784.6L373.6 782.5L375.2 782.1L376.8 772.7L378.4 784.5L380 779.4L381.6 781.5L383.2 779.3L384.8 780.2L386.4 782.7L388 781.6L389.6 779.6L391.2 783.1L392.8 783.3L394.4 777.5L396 781.8L397.6 785L399.2 779.5L400.8 778.6L402.4 777.8L404 781.6L405.6 780.2L407.2 781L408.8 780.7L410.4 782.9L412 780.4L413.6 783.9L415.2 784.3L416.8 781.5L418.4 780.1L420 780.8L421.6 784.3L423.2 787.5L424.8 783.5L426.4 778.9L428 779.5L429.6 780.5L431.2 781.2L432.8 784.9L434.4 782.2L436 776.2L437.6 778.3L439.2 779L440.8 778.6L442.4 774.8L444 778.5L445.6 771.4L447.2 774L448.8 770.1L450.4 771.1L452 771.9L453.6 768.8L455.2 771L456.8 769.5L458.4 771.2L460 772.1L461.6 765.4L463.2 764.6L464.8 768.1L466.4 767.9L468 769.5L469.6 764L471.2 765.6L472.8 763.7L474.4 758.2L476 767.2L477.6 767.2L479.2 761.9L480.8 754L482.4 763L484 763.3L485.6 759.9L487.2 760L488.8 758L490.4 753.1L492 756.6L493.6 761.6L495.2 756.4L496.8 761.8L498.4 752.1L500 753.3L501.6 753.3L503.2 746.2L504.8 751.3L506.4 751.9L508 751L509.6 752.6L511.2 749.1L512.8 757.9L514.4 755.6L516 756.1L517.6 759.4L519.2 760.9L520.8 762.9L522.4 766.9L524 766.2L525.6 769.7L527.2 773.1L528.8 770.9L530.4 773.3L532 776.8L533.6 782.8L535.2 779.7L536.8 785.4L538.4 783.4L540 785.6L541.6 786.5L543.2 788.6L544.8 787.4L546.4 789L548 790.7L549.6 789.6L551.2 790.8L552.8 788.9L554.4 793.2L556 788.9L557.6 787.4L559.2 790.4L560.8 793.3L562.4 789.1L564 795.2L565.6 812.5L567.2 768.1L568.8 765.3L570.4 767L572 798L573.6 825L575.2 816.7L576.8 810.2L578.4 794.4L580 815.5L581.6 771.8L583.2 800.1L584.8 788.8L586.4 777L588 772.4L589.6 792.7L591.2 750.1L592.8 810L594.4 790.1L596 792.3L597.6 792.1L599.2 805L600.8 748.3L602.4 811.3L604 815.9L605.6 769.6L607.2 779.3L608.8 776.7L610.4 798.7L612 726L613.6 773.8L615.2 810.8L616.8 751.8L618.4 793.2L619 791.5" fill="none" stroke="#3a7d22" stroke-width="2.6" stroke-linejoin="round"/>
<path d="M178 645L179.5 646.9L181 648.8L182.5 650.6L184 652.4L185.5 654.2L187 655.9L188.5 657.6L190 659.2L191.5 660.8L193 662.4L194.5 663.9L196 665.4L197.5 666.9L199 668.5L200.5 670L202 671.5L203.5 673L205 674.5L206.5 675.9L208 677.3L209.5 678.5L211 679.7L212.5 680.7L214 681.6L215.5 682.4L217 683L218.5 683.5L220 684L221.5 684.5L223 685L224.5 685.5L226 685.9L227.5 686.3L229 686.7L230.5 687L232 687.3L233.5 687.5L235 687.7L236.5 687.9L238 688L239.5 688L241 688L242.5 687.9L244 687.9L245.5 687.8L247 687.6L248.5 687.5L250 687.3L251.5 687.1L253 686.7L254.5 686L256 684.9L257.5 683.6L259 682L260.5 679.9L262 676.9L263.5 673.3L265 669L266.5 663.3L268 657L269.5 650L271 642.3L272.5 634.3L274 625.8L275.5 616.9L277 608L278.5 599.1L280 590.2L281.5 581.2L283 572.2L284.5 563.1L286 554.1L287.5 545.1L289 536.2L290.5 527L292 517.6L293.5 508.4L295 499.9L296.5 492.7L298 486.1L299.5 480.3L301 476L302.5 472.7L304 471L305.5 471.9L307 474.1L308.5 477L310 480.4L311.5 485.2L313 491L314.5 497.1L316 504L317.5 511.7L319 520L320.5 529.2L322 539.3L323.5 549.6L325 559.8L326.5 570L328 580.2L329.5 590.3L331 600.3L332.5 610.2L334 620L335.5 629.8L337 639.6L338.5 649L340 658L341.5 666.7L343 675L344.5 682.3L346 688.9L347.5 695.1L349 700.9L350.5 706.7L352 712.5L353.5 717.8L355 722L356.5 725.3L358 728.3L359.5 730.8L361 732.9L362.5 734.5L364 735.9L365.5 737.2L367 738.3L368.5 739.3L370 740.1L371.5 740.8L373 741.4L374.5 741.9L376 742.3L377.5 742.8L379 743.2L380.5 743.5L382 743.8L383.5 743.9L385 744L386.5 744L388 744L389.5 744.1L391 744.1L392.5 744.1L394 744.1L395.5 744.1L397 744.1L398.5 744.1L400 744.1L401.5 744.2L403 744.2L404.5 744.2L406 744.2L407.5 744.2L409 744.2L410.5 744.2L412 744.2L413.5 744.2L415 744.2L416.5 744.2L418 744.2L419.5 744.2L421 744.2L422.5 744.2L424 744.2L425.5 744.1L427 744.1L428.5 744L430 744L431.5 743.9L433 743.8L434.5 743.7L436 743.6L437.5 743.5L439 743.4L440.5 743.3L442 743.2L443.5 743.1L445 743L446.5 742.9L448 742.7L449.5 742.6L451 742.4L452.5 742.2L454 742L455.5 741.8L457 741.5L458.5 741.3L460 741L461.5 740.7L463 740.4L464.5 740.1L466 739.8L467.5 739.4L469 739L470.5 738.5L472 738L473.5 737.5L475 737" fill="none" stroke="#000" stroke-width="2" stroke-dasharray="8 5"/>
<path d="M385 763.5L386.5 763.5L388 763.5L389.5 763.5L391 763.5L392.5 763.5L394 763.5L395.5 763.4L397 763.4L398.5 763.4L400 763.4L401.5 763.4L403 763.3L404.5 763.3L406 763.3L407.5 763.3L409 763.2L410.5 763.2L412 763.2L413.5 763.1L415 763.1L416.5 763.1L418 763L419.5 763L421 763L422.5 762.9L424 762.9L425.5 762.8L427 762.7L428.5 762.7L430 762.6L431.5 762.5L433 762.4L434.5 762.3L436 762.2L437.5 762.1L439 762L440.5 761.9L442 761.7L443.5 761.6L445 761.5" fill="none" stroke="#e00000" stroke-width="2" stroke-dasharray="8 5"/>
<path d="M488 741L497 737" fill="none" stroke="#e00000" stroke-width="2"/>
<path d="M198 700L199.5 701.8L201 703.5L202.5 705.1L204 706.8L205.5 708.3L207 709.9L208.5 711.3L210 712.7L211.5 714L213 715.2L214.5 716.3L216 717.4L217.5 718.3L219 719.2L220.5 720.2L222 721.1L223.5 722L225 722.9L226.5 723.8L228 724.6L229.5 725.3L231 726L232.5 726.6L234 727.1L235.5 727.5L237 727.8L238.5 728L240 728L241.5 727.9L243 727.8L244.5 727.5L246 727.2L247.5 726.9L249 726.4L250.5 725.9L252 725.3L253.5 724.7L255 724L256.5 722.8L258 720.9L259.5 718.5L261 715.8L262 714" fill="none" stroke="#0000ff" stroke-width="2" stroke-dasharray="8 5"/>
<path d="M470 758L480 752" fill="none" stroke="#0000ff" stroke-width="2"/>
<path d="M69.2 841.5V1211.2M64.2 1211.2H620.5M60.4 1170.2H69.2M60.4 1088.1H69.2M60.4 1006.0H69.2M60.4 923.9H69.2M60.4 841.8H69.2M63.7 1129.2H69.2M63.7 1047.0H69.2M63.7 965.0H69.2M63.7 882.9H69.2M113.1 1211.2V1218M278.3 1211.2V1218M443.5 1211.2V1218M608.7 1211.2V1218M195.7 1211.2V1215.5M360.9 1211.2V1215.5M526.1 1211.2V1215.5" fill="none" stroke="#111" stroke-width="2"/>
<text transform="translate(36.68 860.40) scale(0.3608 0.3629)" font-family="Liberation Sans" font-weight="normal" font-style="normal" font-size="100" fill="#000" >4</text>
<text transform="translate(37.24 940.33) scale(0.3638 0.3704)" font-family="Liberation Sans" font-weight="normal" font-style="normal" font-size="100" fill="#000" >3</text>
<text transform="translate(36.58 1020.80) scale(0.3848 0.3743)" font-family="Liberation Sans" font-weight="normal" font-style="normal" font-size="100" fill="#000" >2</text>
<text transform="translate(38.81 1100.50) scale(0.2488 0.3754)" font-family="Liberation Sans" font-weight="normal" font-style="normal" font-size="100" fill="#000" >1</text>
<text transform="translate(37.02 1180.42) scale(0.3688 0.3803)" font-family="Liberation Sans" font-weight="normal" font-style="normal" font-size="100" fill="#000" >0</text>
<text transform="translate(81.63 1250.23) scale(0.3418 0.3662)" font-family="Liberation Sans" font-weight="normal" font-style="normal" font-size="100" fill="#000" >341</text>
<text transform="translate(242.76 1250.23) scale(0.3600 0.3662)" font-family="Liberation Sans" font-weight="normal" font-style="normal" font-size="100" fill="#000" >344</text>
<text transform="translate(404.34 1250.23) scale(0.3646 0.3662)" font-family="Liberation Sans" font-weight="normal" font-style="normal" font-size="100" fill="#000" >347</text>
<text transform="translate(564.95 1250.23) scale(0.3623 0.3662)" font-family="Liberation Sans" font-weight="normal" font-style="normal" font-size="100" fill="#000" >350</text>
<text transform="translate(187.32 1288.69) scale(0.3597 0.3245)" font-family="Liberation Sans" font-weight="normal" font-style="normal" font-size="100" fill="#000" >Magnetic Field, <tspan font-weight="bold" font-style="italic">B</tspan> (mT)</text>
<text transform="rotate(-90 18.95 1015.6) translate(-52.01 1024.64) scale(0.3649 0.3479)" font-family="Liberation Sans" font-weight="normal" font-style="normal" font-size="100" fill="#000" >W (MHz)</text>
<path d="M137.5 1148.9L138.8 1141L140 1140.5L141.2 1149.5L142.5 1122.1L143.8 1142.8L145 1144.1L146.2 1148.9L147.5 1157.8L148.8 1154.5L150 1161.4L151.2 1150.5L152.5 1156.3L153.8 1139.7L155 1165.5L156.2 1141.6L157.5 1154.6L158.8 1144.8L160 1165.8L161.2 1149.6L162.5 1149.9L163.8 1148.4L165 1153.4L166.2 1143.8L167.5 1154.2L168.8 1151.3L170 1159.4L171.2 1146.2L172.5 1159.5L173.8 1148.5L175 1141.4L176.2 1133L177.5 1137.3L178.8 1148.7L180 1141.7L181.2 1107.3L182.5 1142.4L183.8 1126.7L185 1132.8L186.2 1116.4L187.5 1129.1L188.8 1126.4L190 1127.9L191.2 1112.6L192.5 1121.6L193.8 1111.5L195 1126L196.2 1112.9L197.5 1114.9L198.8 1099.5L200 1117.5L201.2 1108.1L202.5 1120.4L203.8 1105.9L205 1104.2L206.2 1102.8L207.5 1100.6L208.8 1089.8L210 1100.1L211.2 1085L212.5 1098L213.8 1087.9L215 1103.7L216.2 1083.8L217.5 1103.8L218.8 1081L220 1093.9L221.2 1063.2L222.5 1096.7L223.8 1083.2L225 1072.8L226.2 1073.8L227.5 1079.9L228.8 1078.1L230 1084.6L231.2 1072.4L232.5 1086L233.8 1087.9L235 1101.8L236.2 1075.9L237.5 1092L238.8 1087.2L240 1085.4L241.2 1084.6L242.5 1094.3L243.8 1081L245 1105.1L246.2 1086.4L247.5 1089.2L248.8 1094L250 1096.9L251.2 1090.7L252.5 1104.6L253.8 1091.4L255 1128L256.2 1110.4L257.5 1129.8L258.8 1103.9L260 1125.7L261.2 1122.1L262.5 1132.8L263.8 1131L265 1140.2L266.2 1137.6L267.5 1145.5L268.8 1156L270 1147.5L271.2 1151.2L272.5 1156.5L273.8 1156.9L275 1159.5L276.2 1158.4L277.5 1162.9L278.8 1158.5L280 1163.8L281.2 1164.6L282.5 1165.2L283.8 1165.9L285 1171.7L286.2 1168.9L287.5 1172.5L288.8 1169.3L290 1173.9L291.2 1159.6L292.5 1171.7L293.8 1166.7L295 1175L296.2 1172.3L297.5 1172.5L298.8 1171L300 1174.7L301.2 1168.5L302.5 1171.4L303.8 1167.6L305 1173L306.2 1168.5L307.5 1169.5L308.8 1171.5L310 1172.6L311.2 1171.4L312.5 1169.3L313.8 1167.5L315 1164.8L316.2 1160.1L317.5 1169.3L318.8 1163.4L320 1165.8L321.2 1161.7L322.5 1165.8L323.8 1163.9L325 1159.3L326.2 1160.5L327.5 1162.7L328.8 1155.2L330 1153.4L331.2 1151.9L332.5 1157.1L333.8 1136L335 1148.5L336.2 1145.7L337.5 1144.7L338.8 1137.6L340 1138.1L341.2 1135L342.5 1136.3L343.8 1126.6L345 1127.6L346.2 1118.4L347.5 1129.9L348.8 1101.3L350 1109.9L351.2 1095.8L352.5 1114L353.8 1072.8L355 1099.6L356.2 1063.5L357.5 1071.9L358.8 1063.2L360 1050.4L361.2 1037.5L362.5 1021.1L363.8 991.4L365 1024.7L366.2 1002.9L367.5 1014.1L368.8 993.3L370 1016.7L371.2 967.6L372.5 1018.5L373.8 984.4L375 954L376.2 988L377.5 974.1L378.8 991.6L380 1007.4L381.2 970.5L382.5 985.4L383.8 998.5L385 982.5L386.2 972.6L387.5 977.8L388.8 1006.4L390 998.1L391.2 958.4L392.5 977.8L393.8 972.5L395 981.9L396.2 958.7L397.5 993.9L398.8 951.6L400 1006.5L401.2 1050.2L402.5 973.2L403.8 956.1L405 1000.8L406.2 942.4L407.5 985.4L408.8 957.2L410 993.6L411.2 962L412.5 1004.5L413.8 968.6L415 1014.2L416.2 956L417.5 995.8L418.8 988.1L420 975.7L421.2 946.3L422.5 992.5L423.8 979.2L425 979L426.2 934.6L427.5 1025.9L428.8 975.3L430 1000.8L431.2 986.5L432.5 999.7L433.8 971.3L435 1014.7L436.2 1028.7L437.5 996.9L438.8 987.8L440 1000.2L441.2 967.6L442.5 989.6L443.8 988.1L445 1009.2L446.2 993.2L447.5 1021.2L448.8 983.3L450 1021.7L451.2 999.5L452.5 1024.6L453.8 1021.1L455 1012.7L456.2 999.5L457.5 1021.9L458.8 1011.1L460 1034.9L461.2 1015.9L462.5 1044.6L463.8 1008.7L465 1035.5L466.2 1041.3L467.5 1060L468.8 1026.7L470 1025.6L471.2 1028.8L472.5 1056.9L473.8 1037.8L475 1034.7L476.2 1028.5L477.5 1047.4L478.8 1032.9L480 1073L481.2 1035.1L482.5 1057L483.8 1066.5L485 1081.6L486.2 1060.2L487.5 1075.9L488.8 1042.9L490 1077L491.2 1055.7L492.5 1074.4L493.8 1068.3L495 1062L496.2 1062.5L497.5 1096.5L498.8 1052.9L500 1103.8L501.2 1085.3L502.5 1088.7L503.8 1098.8L505 1094.7L506.2 1096L507.5 1092.7L508.8 1095.6L510 1111.6L511.2 1081.8L512.5 1107.1L513.8 1084.4L514.2 1102.1" fill="none" stroke="#e00000" stroke-width="2.4" stroke-linejoin="round"/>
<path d="M137.5 1122.8L138.8 1130.7L140 1141.8L141.2 1137.8L142.5 1168.7L143.8 1115.7L145 1159.2L146.2 1137.2L147.5 1171.8L148.8 1145L150 1156.6L151.2 1155.4L152.5 1153L153.8 1146.9L155 1160.4L156.2 1153.2L157.5 1160.9L158.8 1149.7L160 1146.9L161.2 1142.4L162.5 1153.2L163.8 1146.1L165 1154.3L166.2 1154.1L167.5 1157.1L168.8 1150L170 1155.1L171.2 1152.5L172.5 1151.9L173.8 1148.1L175 1148.2L176.2 1137L177.5 1147.4L178.8 1141.3L180 1149.2L181.2 1145.7L182.5 1137.1L183.8 1117.5L185 1126.6L186.2 1127.8L187.5 1132L188.8 1124.6L190 1123L191.2 1120.3L192.5 1130.6L193.8 1116.1L195 1121.5L196.2 1114.1L197.5 1110.4L198.8 1103.3L200 1111.9L201.2 1100.3L202.5 1105L203.8 1100.7L205 1110.7L206.2 1094.1L207.5 1107.4L208.8 1094.8L210 1096.4L211.2 1093.6L212.5 1102.4L213.8 1097.9L215 1088.3L216.2 1082.2L217.5 1093.6L218.8 1081.1L220 1088L221.2 1084.2L222.5 1085.4L223.8 1074.5L225 1086.9L226.2 1081.4L227.5 1081.8L228.8 1086.4L230 1078L231.2 1086.1L232.5 1078L233.8 1090L235 1088L236.2 1080.9L237.5 1084.9L238.8 1067L240 1085.6L241.2 1085L242.5 1093.5L243.8 1103.2L245 1102.3L246.2 1103.7L247.5 1093.9L248.8 1105.5L250 1087.8L251.2 1105.1L252.5 1105.9L253.8 1101L255 1101.5L256.2 1112.7L257.5 1114.3L258.8 1105.8L260 1113.1L261.2 1118.8L262.5 1130L263.8 1131L265 1143.5L266.2 1138.4L267.5 1147.1L268.8 1149.2L270 1156.1L271.2 1150.2L272.5 1158.6L273.8 1155.7L275 1156.8L276.2 1160.3L277.5 1160.6L278.8 1161.9L280 1167.9L281.2 1158.9L282.5 1169.3L283.8 1165L285 1167L286.2 1162.4L287.5 1167.8L288.8 1169.8L290 1169.2L291.2 1163.7L292.5 1172.6L293.8 1172.2L295 1169.1L296.2 1168.4L297.5 1169.9L298.8 1167.5L300 1172.2L301.2 1168L302.5 1171.8L303.8 1166.2L305 1174.7L306.2 1169.1L307.5 1170.4L308.8 1166.7L310 1168.9L311.2 1169.6L312.5 1170.7L313.8 1165.9L315 1175.6L316.2 1167.8L317.5 1168.8L318.8 1165.9L320 1167.1L321.2 1162.1L322.5 1156.9L323.8 1165.3L325 1157.4L326.2 1156.2L327.5 1161.4L328.8 1157.4L330 1155.3L331.2 1153.8L332.5 1156.8L333.8 1146.2L335 1148.6L336.2 1148.1L337.5 1148.7L338.8 1137.1L340 1141.3L341.2 1130.9L342.5 1133.5L343.8 1127.8L345 1139.2L346.2 1117.3L347.5 1123.1L348.8 1108.8L350 1116.8L351.2 1100.8L352.5 1111.2L353.8 1080.1L355 1090.2L356.2 1064.5L357.5 1069L358.8 1040.8L360 1051.1L361.2 1028.2L362.5 1061.6L363.8 1126.6L365 1025.4L366.2 990.5L367.5 1015.3L368.8 987.2L370 1007.6L371.2 1002.5L372.5 997L373.8 953L375 932.6L376.2 967.9L377.5 973.9L378.8 972.6L380 915.8L381.2 933.7L382.5 960.6L383.8 896L385 987.5L386.2 942.5L387.5 1017.9L388.8 943.6L390 994.2L391.2 895.2L392.5 976.5L393.8 923.6L395 973.7L396.2 936.2L397.5 1003.2L398.8 919.4L400 1040.8L401.2 972.1L402.5 931.5L403.8 918.6L405 959.2L406.2 957.5L407.5 957.8L408.8 961.7L410 935.9L411.2 929.4L412.5 991.8L413.8 974.8L415 912.8L416.2 957.6L417.5 1007.3L418.8 947.5L420 1004L421.2 927.1L422.5 986.1L423.8 976.9L425 961.1L426.2 986.1L427.5 981.5L428.8 990.8L430 980.8L431.2 942L432.5 1014.4L433.8 985.3L435 984.7L436.2 978.6L437.5 981.5L438.8 974.3L440 984.8L441.2 939L442.5 1015L443.8 955.1L445 1018.5L446.2 996.5L447.5 964.7L448.8 959.5L450 1000.5L451.2 951L452.5 1066.2L453.8 984L455 1022L456.2 1012.2L457.5 1014.8L458.8 1011.9L460 1032.7L461.2 1013.8L462.5 1027L463.8 1006.9L465 1044.4L466.2 983.1L467.5 1046L468.8 1030.2L470 1047.3L471.2 1034.4L472.5 1063.2L473.8 1008.5L475 1049.6L476.2 1031.2L477.5 1057.1L478.8 1045.5L480 1074.1L481.2 1051.9L482.5 1056.5L483.8 1036.6L485 1061.8L486.2 1061.1L487.5 1062.8L488.8 1042.1L490 1071.3L491.2 1068.1L492.5 1081.4L493.8 1058.7L495 1082L496.2 1060.1L497.5 1087.7L498.8 1045L500 1091.5L501.2 1040.1L502.5 1078.9L503.8 1091.5L505 1097.4L506.2 1082.6L507.5 1149.4L508.8 1088L510 1137.2L511.2 1095.2L512.5 1083.7L513.8 1093.3L514.2 1115.7" fill="none" stroke="#0000ff" stroke-width="2.4" stroke-linejoin="round"/>
<path d="M137.5 1145.8L138.8 1116.5L140 1154.7L141.2 1139.9L142.5 1145.4L143.8 1137.8L145 1149.2L146.2 1142.8L147.5 1144.7L148.8 1134.8L150 1159.2L151.2 1138.6L152.5 1171.6L153.8 1146.1L155 1158.7L156.2 1144L157.5 1150.2L158.8 1135.9L160 1137.4L161.2 1150.4L162.5 1157.2L163.8 1152.3L165 1162L166.2 1144.2L167.5 1115.6L168.8 1139.5L170 1157.9L171.2 1130.4L172.5 1163.6L173.8 1133.9L175 1144.5L176.2 1129.5L177.5 1142.3L178.8 1137.1L180 1152.4L181.2 1136.4L182.5 1133.7L183.8 1126.5L185 1121.4L186.2 1121.7L187.5 1131.8L188.8 1129.2L190 1126.5L191.2 1129.7L192.5 1135L193.8 1117.8L195 1123.6L196.2 1101.8L197.5 1117.6L198.8 1133.8L200 1130.2L201.2 1109.1L202.5 1118.5L203.8 1106L205 1117.1L206.2 1086.1L207.5 1093.6L208.8 1100L210 1098.2L211.2 1105L212.5 1100.2L213.8 1092.1L215 1097.4L216.2 1092.8L217.5 1099.2L218.8 1081.4L220 1077.2L221.2 1083.5L222.5 1096.9L223.8 1071.4L225 1096.9L226.2 1076.4L227.5 1073.6L228.8 1075.5L230 1083.2L231.2 1083.1L232.5 1079.9L233.8 1079.3L235 1079.1L236.2 1073.8L237.5 1087L238.8 1084.4L240 1090.2L241.2 1080.3L242.5 1094.2L243.8 1084.3L245 1084.8L246.2 1087.3L247.5 1103.4L248.8 1096.2L250 1097.8L251.2 1078.7L252.5 1106L253.8 1107.9L255 1102.9L256.2 1115.2L257.5 1110.8L258.8 1106.7L260 1127.6L261.2 1117.7L262.5 1141.1L263.8 1136.6L265 1143.4L266.2 1125.1L267.5 1154.2L268.8 1139.1L270 1154.1L271.2 1148.5L272.5 1157.5L273.8 1149.9L275 1157.1L276.2 1157.6L277.5 1162.6L278.8 1159.3L280 1165.4L281.2 1161.6L282.5 1166.1L283.8 1163L285 1173.3L286.2 1168.1L287.5 1161.5L288.8 1166.1L290 1169.2L291.2 1163L292.5 1170.5L293.8 1168L295 1168.9L296.2 1168.3L297.5 1171.5L298.8 1169.9L300 1177.8L301.2 1169.3L302.5 1169.3L303.8 1168.4L305 1170.3L306.2 1173.1L307.5 1169.7L308.8 1170L310 1170L311.2 1165L312.5 1166L313.8 1169.3L315 1167.8L316.2 1166.5L317.5 1170.3L318.8 1169.2L320 1167.5L321.2 1161.1L322.5 1166.6L323.8 1154.5L325 1165.4L326.2 1160L327.5 1162L328.8 1154.3L330 1159.8L331.2 1154.6L332.5 1151.1L333.8 1156.9L335 1147.2L336.2 1141.6L337.5 1141.3L338.8 1138.3L340 1139.7L341.2 1134.4L342.5 1134.4L343.8 1128.2L345 1139L346.2 1125L347.5 1130L348.8 1106L350 1117.4L351.2 1090.3L352.5 1103.7L353.8 1094L355 1103L356.2 1075.7L357.5 1086.6L358.8 1089.5L360 1050.5L361.2 1031.4L362.5 964.3L363.8 1005L365 1049.6L366.2 940.1L367.5 1031.9L368.8 949L370 966.6L371.2 972.4L372.5 976.2L373.8 968.5L375 986.3L376.2 981.2L377.5 1012L378.8 930.2L380 1025.7L381.2 985.9L382.5 974L383.8 924.2L385 963.3L386.2 888.8L387.5 973.9L388.8 943.8L390 1036.7L391.2 879.3L392.5 1061.6L393.8 962.3L395 1011.7L396.2 962.9L397.5 957.6L398.8 930.7L400 994.7L401.2 933L402.5 992.3L403.8 998.1L405 962.3L406.2 949L407.5 993.4L408.8 918.1L410 1001.4L411.2 910.4L412.5 958L413.8 979.9L415 1003.4L416.2 907.5L417.5 1009.6L418.8 1013.3L420 977L421.2 933.6L422.5 988.2L423.8 982.1L425 1014.8L426.2 1002.2L427.5 993.1L428.8 991.4L430 921.2L431.2 992.6L432.5 1043.5L433.8 1019L435 1030.7L436.2 915.5L437.5 988.3L438.8 991.6L440 949.5L441.2 1016.2L442.5 977.7L443.8 975.6L445 1006.2L446.2 983L447.5 1024.5L448.8 936.9L450 990.8L451.2 955.3L452.5 1049.2L453.8 926.1L455 1025.9L456.2 991.4L457.5 1009.2L458.8 1006.3L460 1067.7L461.2 1019.1L462.5 983.7L463.8 966.9L465 979.9L466.2 1030.4L467.5 1032.8L468.8 1047.3L470 1033.4L471.2 1013L472.5 1057L473.8 1023.7L475 1069.2L476.2 1045.2L477.5 1075.4L478.8 1018.1L480 1085.7L481.2 1038.4L482.5 1070.1L483.8 1013.1L485 1065.3L486.2 1073.1L487.5 1054.4L488.8 1069.6L490 1074.5L491.2 1070.4L492.5 1111L493.8 1086.4L495 1093.2L496.2 1063.8L497.5 1104.6L498.8 1071.1L500 1092.7L501.2 1078.9L502.5 1048.6L503.8 1090.5L505 1105L506.2 1104.4L507.5 1075L508.8 1123.1L510 1081.5L511.2 1069.7L512.5 1100L513.8 1081.5L514.2 1113.2" fill="none" stroke="#3a7d22" stroke-width="2.4" stroke-linejoin="round"/>
<path d="M141.5 1150L142.5 1190L144 1145" fill="none" stroke="#e00000" stroke-width="2"/>
<path d="M227.8 1045V1119M410.7 876V1071.5" fill="none" stroke="#000" stroke-width="1.8" stroke-dasharray="4.5 3.5"/>
<text transform="translate(215.07 1035.30) scale(0.2290 0.2362)" font-family="Liberation Sans" font-weight="normal" font-style="normal" font-size="100" fill="#000" >W</text>
<text transform="translate(239.83 1042.00) scale(0.2091 0.1913)" font-family="Liberation Sans" font-weight="normal" font-style="normal" font-size="100" fill="#000" >L</text>
<text transform="translate(395.77 865.50) scale(0.2290 0.2536)" font-family="Liberation Sans" font-weight="normal" font-style="normal" font-size="100" fill="#000" >W</text>
<text transform="translate(418.73 871.00) scale(0.2339 0.1884)" font-family="Liberation Sans" font-weight="normal" font-style="normal" font-size="100" fill="#000" >H</text>
<text transform="translate(1194.14 495.80) scale(0.4082 0.4348)" font-family="Liberation Sans" font-weight="bold" font-style="normal" font-size="100" fill="#000" >B</text>
<path d="M905 634L1004.4 536.2" stroke="#e00000" stroke-width="4.6" fill="none"/>
<path d="M1016.3 525.5L1009.1 541.4L1006.7 534.2L999.7 531.0Z" fill="#e00000"/>
<path d="M909.4 640V478" stroke="#000" stroke-width="6.4" fill="none"/>
<path d="M909.4 462.2L899.3 482.5L919.5 482.5Z" fill="#000"/>
<path d="M905 639.2H1106" stroke="#000" stroke-width="6.4" fill="none"/>
<path d="M1123.2 639.2L1103.8 629.3L1103.8 649.1Z" fill="#000"/>
<path d="M909.4 639.5L767 753.2" stroke="#000" stroke-width="5.6" fill="none"/>
<path d="M754.1 765.4L762.5 745.1L769 752L775.7 760.5Z" fill="#000"/>
<path d="M1019.8 527V754" stroke="#000" stroke-width="4" stroke-dasharray="13 10.7" fill="none"/>
<path d="M925.4 657.5L1016.5 754.7" stroke="#000" stroke-width="3.6" stroke-dasharray="10 7" fill="none"/>
<path d="M914.5 560.8C922 553 948 546 970.6 567.2" stroke="#000" stroke-width="2.8" fill="none"/>
<path d="M861.9 683.5Q906 723 948.3 688.8" stroke="#000" stroke-width="2.8" fill="none"/>
<ellipse cx="905.4" cy="633.5" rx="65.4" ry="31.7" transform="rotate(-38.2 905.4 633.5)" fill="#870287"/>
<text transform="translate(904.6 634.6) rotate(-41) translate(-30.28 10.69) scale(0.3256 0.3099)" font-family="Liberation Sans" font-weight="bold" font-style="normal" font-size="100" fill="#fff" >N-O</text>
<path d="M879.4 498.3Q912 529 948.2 500.6" stroke="#43893b" stroke-width="6" fill="none"/><path d="M879.4 498.3Q912 529 948.2 500.6" stroke="#72cc62" stroke-width="1.8" fill="none" transform="translate(0 1.2)"/><path d="M870.4 487.9L876 508.7L881.3 500.5L890.4 496.7Z" fill="#41853a"/><path d="M870.4 487.9L876 508.7L881.3 500.5Z" fill="#6fca5f"/><path d="M957 490.3L952.1 511L946.4 502.8L936.9 499Z" fill="#41853a"/><path d="M957 490.3L952.1 511L946.4 502.8Z" fill="#6fca5f"/>
<path d="M1075.6 603.6Q1046.4 638.5 1076.6 672.7" stroke="#43893b" stroke-width="6" fill="none"/><path d="M1075.6 603.6Q1046.4 638.5 1076.6 672.7" stroke="#72cc62" stroke-width="1.8" fill="none" transform="translate(-1.2 0)"/><path d="M1084.4 594L1064.2 601.2L1073.7 605.6L1079.5 614.1Z" fill="#41853a"/><path d="M1084.4 594L1064.2 601.2L1073.7 605.6Z" fill="#6fca5f"/><path d="M1087.6 680.4L1065.8 677.1L1074.2 671.1L1077.9 661.8Z" fill="#41853a"/><path d="M1087.6 680.4L1065.8 677.1L1074.2 671.1Z" fill="#6fca5f"/>
<path d="M773.1 708.7Q816.2 702 824.5 755.2" stroke="#43893b" stroke-width="6" fill="none"/><path d="M773.1 708.7Q816.2 702 824.5 755.2" stroke="#72cc62" stroke-width="1.8" fill="none" transform="translate(-0.9 -0.9)"/><path d="M759.4 711.2L777.5 698L776.1 708.2L780.5 717.3Z" fill="#41853a"/><path d="M759.4 711.2L777.5 698L776.1 708.2Z" fill="#6fca5f"/><path d="M824.6 768.4L815 750L824.5 752.3L833.9 749Z" fill="#41853a"/><path d="M824.6 768.4L815 750L824.5 752.3Z" fill="#6fca5f"/>
<text transform="translate(881.22 483.80) scale(0.2951 0.3170)" font-family="Liberation Sans" font-weight="normal" font-style="normal" font-size="100" fill="#000" >z</text>
<text transform="translate(1099.00 676.96) scale(0.2740 0.3162)" font-family="Liberation Sans" font-weight="normal" font-style="normal" font-size="100" fill="#000" >y</text>
<text transform="translate(740.62 747.70) scale(0.2833 0.3151)" font-family="Liberation Sans" font-weight="normal" font-style="normal" font-size="100" fill="#000" >x</text>
<text transform="translate(987.07 520.00) scale(0.2754 0.3261)" font-family="Liberation Sans" font-weight="bold" font-style="normal" font-size="100" fill="#e00000" >B</text>
<text transform="translate(942.16 548.93) scale(0.3077 0.2704)" font-family="Liberation Serif" font-weight="normal" font-style="normal" font-size="100" fill="#000" >θ</text>
<text transform="translate(898.23 727.73) scale(0.2920 0.2750)" font-family="Liberation Serif" font-weight="normal" font-style="normal" font-size="100" fill="#000" >φ</text>
<text transform="translate(776.07 690.52) scale(0.3587 0.2812)" font-family="Liberation Serif" font-weight="normal" font-style="normal" font-size="100" fill="#000" >α</text>
<path d="M673.2 789.6H1235.6V1209.5H673.2Z" fill="none" stroke="#111" stroke-width="2.2"/>
<path d="M673.2 1209.5V1222M718.9 1209.5V1220M765.9 1209.5V1215M813.0 1209.5V1220M860.0 1209.5V1215M907.1 1209.5V1220M954.1 1209.5V1215M1001.2 1209.5V1220M1048.2 1209.5V1215M1095.3 1209.5V1220M1142.3 1209.5V1215M1189.4 1209.5V1220M1235.6 1209.5V1215" fill="none" stroke="#111" stroke-width="2"/>
<text transform="translate(689.28 1252.25) scale(0.3547 0.3465)" font-family="Liberation Sans" font-weight="normal" font-style="normal" font-size="100" fill="#000" >328</text>
<text transform="translate(783.38 1252.25) scale(0.3547 0.3465)" font-family="Liberation Sans" font-weight="normal" font-style="normal" font-size="100" fill="#000" >330</text>
<text transform="translate(877.47 1252.25) scale(0.3570 0.3465)" font-family="Liberation Sans" font-weight="normal" font-style="normal" font-size="100" fill="#000" >332</text>
<text transform="translate(971.59 1252.25) scale(0.3525 0.3465)" font-family="Liberation Sans" font-weight="normal" font-style="normal" font-size="100" fill="#000" >334</text>
<text transform="translate(1065.67 1252.25) scale(0.3570 0.3465)" font-family="Liberation Sans" font-weight="normal" font-style="normal" font-size="100" fill="#000" >336</text>
<text transform="translate(1159.78 1252.25) scale(0.3547 0.3465)" font-family="Liberation Sans" font-weight="normal" font-style="normal" font-size="100" fill="#000" >338</text>
<text transform="translate(783.31 1289.14) scale(0.3607 0.3266)" font-family="Liberation Sans" font-weight="normal" font-style="normal" font-size="100" fill="#000" >Magnetic Field, <tspan font-weight="bold" font-style="italic">B</tspan> (mT)</text>
<text transform="translate(1139.94 952.45) scale(0.3079 0.2951)" font-family="Liberation Sans" font-weight="normal" font-style="normal" font-size="100" fill="#000" >150 K</text>
<text transform="translate(1140.88 996.39) scale(0.3043 0.3056)" font-family="Liberation Sans" font-weight="normal" font-style="normal" font-size="100" fill="#000" >220 K</text>
<text transform="translate(1140.88 1045.00) scale(0.3043 0.2958)" font-family="Liberation Sans" font-weight="normal" font-style="normal" font-size="100" fill="#000" >260 K</text>
<path d="M676.8 1045.2L677.9 1045.5L679 1045.6L680.1 1045L681.2 1045.7L682.3 1045.5L683.4 1045.6L684.5 1045.4L685.6 1045.7L686.7 1044.9L687.8 1045.9L688.9 1045.7L690 1044.9L691.1 1045.4L692.2 1045.2L693.3 1044.3L694.4 1045.2L695.5 1044.7L696.6 1044.8L697.7 1044.6L698.8 1044.6L699.9 1044.7L701 1044.7L702.1 1043.9L703.2 1044.4L704.3 1043.9L705.4 1043.9L706.5 1044.2L707.6 1044.6L708.7 1044.4L709.8 1043.8L710.9 1043.7L712 1043.6L713.1 1043.9L714.2 1044.1L715.3 1043.6L716.4 1043.7L717.5 1043.4L718.6 1043.8L719.7 1042.2L720.8 1042L721.9 1042.6L723 1042.8L724.1 1042.2L725.2 1042.3L726.3 1041.5L727.4 1041.2L728.5 1041.2L729.6 1041.6L730.7 1041.3L731.8 1040.5L732.9 1040.6L734 1040L735.1 1040L736.2 1039.3L737.3 1039.4L738.4 1038.9L739.5 1038.8L740.6 1038.3L741.7 1037.8L742.8 1037.8L743.9 1037.2L745 1036.8L746.1 1036L747.2 1035.8L748.3 1034.5L749.4 1034.4L750.5 1033.8L751.6 1032.3L752.7 1032.2L753.8 1031.4L754.9 1029.8L756 1028.1L757.1 1027L758.2 1026.5L759.3 1026.1L760.4 1024.5L761.5 1023.2L762.6 1021.4L763.7 1019.8L764.8 1018.6L765.9 1016.3L767 1014.8L768.1 1013.1L769.2 1010.6L770.3 1008.1L771.4 1004.7L772.5 1001.9L773.6 998.3L774.7 993.8L775.8 990.4L776.9 986.8L778 983.5L779.1 979.4L780.2 975.2L781.3 971L782.4 967.1L783.5 963.6L784.6 959.9L785.7 956.9L786.8 955.6L787.9 953.5L789 952.5L790.1 952.1L791.2 952.2L792.3 953.1L793.4 955.5L794.5 957.4L795.6 959.5L796.7 961.9L797.8 964.9L798.9 968.1L800 972.2L801.1 976.4L802.2 981.3L803.3 987L804.4 993.2L805.5 997.2L806.6 1003.4L807.7 1008.1L808.8 1011.4L809.9 1015.5L811 1018.6L812.1 1021.4L813.2 1024.2L814.3 1026.4L815.4 1030L816.5 1032.2L817.6 1033.6L818.7 1034.3L819.8 1035.7L820.9 1036.9L822 1037.4L823.1 1038.6L824.2 1039.9L825.3 1040.3L826.4 1040.5L827.5 1041.4L828.6 1042.6L829.7 1042.8L830.8 1043.2L831.9 1044.1L833 1043.7L834.1 1043.3L835.2 1043.5L836.3 1044.3L837.4 1042.9L838.5 1043.8L839.6 1043.5L840.7 1042.6L841.8 1042.2L842.9 1042.6L844 1041.8L845.1 1041.1L846.2 1041.7L847.3 1040.7L848.4 1040.2L849.5 1039.5L850.6 1038.6L851.7 1037.9L852.8 1036.9L853.9 1036.4L855 1035.9L856.1 1035.3L857.2 1034.9L858.3 1034.9L859.4 1034.7L860.5 1034.4L861.6 1035.5L862.7 1035L863.8 1036.1L864.9 1037.2L866 1037.1L867.1 1039.2L868.2 1039.1L869.3 1039.9L870.4 1041.2L871.5 1042.1L872.6 1043L873.7 1043.2L874.8 1043.3L875.9 1041.8L877 1040.2L878.1 1037.5L879.2 1035.4L880.3 1031.8L881.4 1027.8L882.5 1024.6L883.6 1018.3L884.7 1012L885.8 1005.3L886.9 998.8L888 990.8L889.1 984L890.2 977.1L891.3 970.1L892.4 961.7L893.5 954.4L894.6 946.9L895.7 941.4L896.8 934.4L897.9 928.5L899 922.7L900.1 916.2L901.2 910.1L902.3 903.3L903.4 899.3L904.5 895.3L905.6 894L906.7 895L907.8 896L908.9 900L910 904.1L911.1 908.7L912.2 917.4L913.3 929.1L914.4 945.4L915.5 963.1L916.6 980.5L917.7 997.5L918.8 1012.5L919.9 1027.2L921 1041.2L922.1 1053.8L923.2 1064.9L924.3 1074.2L925.4 1084.2L926.5 1092.1L927.6 1100.4L928.7 1106.9L929.8 1114.1L930.9 1119.6L932 1124.8L933.1 1129.7L934.2 1133.4L935.3 1138.8L936.4 1143.1L937.5 1147.5L938.6 1153.3L939.7 1158.8L940.8 1164.5L941.9 1169.8L943 1175.2L944.1 1179.9L945.2 1184.1L946.3 1188L947.4 1191.1L948.5 1193L949.6 1193.9L950.7 1192.2L951.8 1189.2L952.9 1186.2L954 1182.1L955.1 1176.8L956.2 1172L957.3 1165.9L958.4 1158.5L959.5 1151.7L960.6 1144.1L961.7 1137.3L962.8 1129.4L963.9 1125.1L965 1120.2L966.1 1115.3L967.2 1112.1L968.3 1108L969.4 1104.8L970.5 1102.1L971.6 1099.6L972.7 1097L973.8 1095.3L974.9 1093.6L976 1091.6L977.1 1091.2L978.2 1089.6L979.3 1088.1L980.4 1087.4L981.5 1086.2L982.6 1084.8L983.7 1084.5L984.8 1083.2L985.9 1082.6L987 1081.9L988.1 1081L989.2 1080.6L990.3 1079.1L991.4 1078.1L992.5 1077L993.6 1076.2L994.7 1075.9L995.8 1075L996.9 1073.6L998 1072.9L999.1 1072.3L1000.2 1072.3L1001.3 1070.6L1002.4 1070.5L1003.5 1069.1L1004.6 1069.2L1005.7 1069.3L1006.8 1067.9L1007.9 1068.5L1009 1067L1010.1 1067.6L1011.2 1066.9L1012.3 1067.2L1013.4 1067L1014.5 1067.3L1015.6 1066.9L1016.7 1066.7L1017.8 1066.3L1018.9 1066.6L1020 1066L1021.1 1065.9L1022.2 1065.8L1023.3 1066.2L1024.4 1066.8L1025.5 1065.7L1026.6 1066.4L1027.7 1065.2L1028.8 1065.2L1029.9 1065.6L1031 1065.6L1032.1 1065.6L1033.2 1065.8L1034.3 1065L1035.4 1065.5L1036.5 1065.1L1037.6 1063.8L1038.7 1064.5L1039.8 1064.6L1040.9 1064.8L1042 1065L1043.1 1064.6L1044.2 1065.2L1045.3 1064.3L1046.4 1064.6L1047.5 1065L1048.6 1064.2L1049.7 1065.1L1050.8 1065L1051.9 1064.6L1053 1064.7L1054.1 1064.8L1055.2 1065L1056.3 1065.6L1057.4 1065.5L1058.5 1065L1059.6 1065.2L1060.7 1066.4L1061.8 1065.4L1062.9 1066.2L1064 1066.9L1065.1 1067.5L1066.2 1068.5L1067.3 1068.4L1068.4 1070.2L1069.5 1069.3L1070.6 1070L1071.7 1070.6L1072.8 1070.6L1073.9 1071.5L1075 1071.9L1076.1 1072.5L1077.2 1072.8L1078.3 1073.7L1079.4 1075L1080.5 1075.6L1081.6 1076.7L1082.7 1077.6L1083.8 1078.5L1084.9 1079.3L1086 1080.5L1087.1 1081.4L1088.2 1082.5L1089.3 1083.1L1090.4 1083.7L1091.5 1084.7L1092.6 1086.3L1093.7 1086.5L1094.8 1088L1095.9 1089.6L1097 1090L1098.1 1090.7L1099.2 1092.2L1100.3 1091.2L1101.4 1092.6L1102.5 1092.6L1103.6 1092.5L1104.7 1092.7L1105.8 1092.2L1106.9 1091.1L1108 1089.7L1109.1 1088.3L1110.2 1086.6L1111.3 1085.1L1112.4 1082.9L1113.5 1081.8L1114.6 1080.8L1115.7 1079.1L1116.8 1078.3L1117.9 1076.3L1119 1075.7L1120.1 1074.6L1121.2 1074.5L1122.3 1073L1123.4 1072.1L1124.5 1070.9L1125.6 1070.3L1126.7 1069.3L1127.8 1068.7L1128.9 1069L1130 1066.9L1131.1 1066.5L1132.2 1065.6L1133.3 1065.9L1134.4 1064.4L1135.5 1063.9L1136.6 1063.9L1137.7 1064L1138.8 1063L1139.9 1062.3L1141 1061.1L1142.1 1060.3L1143.2 1061.4L1144.3 1061.1L1145.4 1061.2L1146.5 1060.6L1147.6 1060L1148.7 1060.3L1149.8 1060.2L1150.9 1059L1152 1059.3L1153.1 1059.2L1154.2 1058.2L1155.3 1058.5L1156.4 1058.1L1157.5 1058.3L1158.6 1058.1L1159.7 1056.7L1160.8 1057.3L1161.9 1057.8L1163 1057.3L1164.1 1056.5L1165.2 1056.6L1166.3 1056.3L1167.4 1056.7L1168.5 1055.9L1169.6 1056.8L1170.7 1056.5L1171.8 1056.8L1172.9 1056.4L1174 1056.3L1175.1 1056.1L1176.2 1055.9L1177.3 1054.8L1178.4 1055.7L1179.5 1055.1L1180.6 1054.3L1181.7 1055.9L1182.8 1055.2L1183.9 1054.4L1185 1055.2L1186.1 1055.2L1187.2 1055L1188.3 1055.5L1189.4 1054.4L1190.5 1055.2L1191.6 1054.4L1192.7 1055L1193 1055.1" fill="none" stroke="#0000f0" stroke-width="3.3" stroke-linejoin="round"/>
<path d="M676.8 998.5L677.9 998.2L679 997L680.1 997.7L681.2 995.8L682.3 994.1L683.4 998.7L684.5 996.9L685.6 993.3L686.7 994.5L687.8 994.9L688.9 996.1L690 997.2L691.1 995.7L692.2 994.5L693.3 995.6L694.4 994.5L695.5 994.8L696.6 993.5L697.7 992.6L698.8 995.8L699.9 993.4L701 993.9L702.1 992.7L703.2 992.6L704.3 992.7L705.4 993.8L706.5 994.4L707.6 993.3L708.7 991.6L709.8 996L710.9 993.1L712 993.1L713.1 990.9L714.2 991.1L715.3 992.1L716.4 988.7L717.5 989.9L718.6 991.2L719.7 993.8L720.8 990.9L721.9 988.7L723 988.2L724.1 991L725.2 988.3L726.3 988.7L727.4 991.6L728.5 988.7L729.6 987.9L730.7 987L731.8 989.6L732.9 989.2L734 986.2L735.1 984.8L736.2 986.1L737.3 987.7L738.4 986L739.5 983.3L740.6 984.8L741.7 984.8L742.8 983.2L743.9 982.8L745 981.9L746.1 980.6L747.2 979.6L748.3 977.9L749.4 977.3L750.5 975.7L751.6 977.5L752.7 976.4L753.8 974.6L754.9 973.8L756 971.8L757.1 969.3L758.2 969L759.3 966.8L760.4 965.3L761.5 961.2L762.6 961.7L763.7 961.3L764.8 958.5L765.9 956L767 953L768.1 952.2L769.2 952.8L770.3 947.5L771.4 946.9L772.5 941.5L773.6 939.8L774.7 933.5L775.8 930.6L776.9 926.8L778 922.9L779.1 917.4L780.2 915.2L781.3 911.9L782.4 910.6L783.5 908.5L784.6 907.1L785.7 907.2L786.8 904.2L787.9 904L789 904.1L790.1 904.7L791.2 904.4L792.3 907L793.4 905.8L794.5 910.9L795.6 910.1L796.7 913.5L797.8 912.7L798.9 916.6L800 920.9L801.1 927.9L802.2 931L803.3 938.3L804.4 940.2L805.5 947.5L806.6 948.6L807.7 950.8L808.8 954.1L809.9 960.4L811 962.8L812.1 966.2L813.2 968.2L814.3 971.1L815.4 974.6L816.5 974L817.6 976.3L818.7 977L819.8 976.7L820.9 980.1L822 983.7L823.1 981.8L824.2 987L825.3 985.6L826.4 986.3L827.5 987.8L828.6 987.3L829.7 988L830.8 990.4L831.9 988.2L833 989.4L834.1 988.3L835.2 990.2L836.3 994.3L837.4 991.7L838.5 988.7L839.6 987.4L840.7 990.4L841.8 990.4L842.9 988.3L844 990.7L845.1 989.1L846.2 989.2L847.3 988.8L848.4 988.6L849.5 985.7L850.6 984.2L851.7 985.7L852.8 982.3L853.9 979.5L855 980.5L856.1 978.4L857.2 978.8L858.3 982.1L859.4 979.9L860.5 976.6L861.6 975.3L862.7 976.7L863.8 975.3L864.9 976.7L866 976.6L867.1 976.8L868.2 975.7L869.3 973.5L870.4 974.8L871.5 974.6L872.6 974.2L873.7 974.7L874.8 970.7L875.9 970.6L877 968.6L878.1 966.7L879.2 966.9L880.3 963.2L881.4 964.3L882.5 955.5L883.6 957.4L884.7 951L885.8 945.2L886.9 942.2L888 936.6L889.1 931.7L890.2 925.3L891.3 915.5L892.4 909.2L893.5 902.5L894.6 895.4L895.7 888.2L896.8 884.3L897.9 876.9L899 869.3L900.1 866.9L901.2 862.6L902.3 859.8L903.4 859.2L904.5 857.6L905.6 856.5L906.7 857.2L907.8 859.1L908.9 859.2L910 863L911.1 868.9L912.2 872.9L913.3 883.2L914.4 896.6L915.5 914.8L916.6 929.6L917.7 948.6L918.8 962.8L919.9 978.2L921 990.9L922.1 1000.7L923.2 1010L924.3 1021.7L925.4 1028.6L926.5 1038.2L927.6 1046.7L928.7 1052.1L929.8 1063.8L930.9 1070.3L932 1077.4L933.1 1084.8L934.2 1091.8L935.3 1099.6L936.4 1108.5L937.5 1111.6L938.6 1115.9L939.7 1122.5L940.8 1130.7L941.9 1132.8L943 1139.6L944.1 1139.9L945.2 1143.3L946.3 1146.1L947.4 1149.2L948.5 1152.6L949.6 1154.1L950.7 1151.7L951.8 1151.5L952.9 1149.7L954 1147.2L955.1 1146.1L956.2 1142.4L957.3 1136.8L958.4 1132.5L959.5 1124.9L960.6 1120.3L961.7 1111.1L962.8 1106.9L963.9 1101.3L965 1096.6L966.1 1090.7L967.2 1086.9L968.3 1082.2L969.4 1077.5L970.5 1076.7L971.6 1072.3L972.7 1071.8L973.8 1069.5L974.9 1065.7L976 1062.8L977.1 1062.7L978.2 1059.8L979.3 1058.8L980.4 1057.1L981.5 1055.8L982.6 1052.6L983.7 1047.8L984.8 1046.8L985.9 1047.7L987 1041.8L988.1 1040.7L989.2 1041.4L990.3 1038.9L991.4 1036L992.5 1036.3L993.6 1034.1L994.7 1035.2L995.8 1033.1L996.9 1032.6L998 1032.1L999.1 1028.5L1000.2 1030.3L1001.3 1030.5L1002.4 1029.6L1003.5 1028.2L1004.6 1028.4L1005.7 1030.1L1006.8 1028.6L1007.9 1026.5L1009 1028.5L1010.1 1027.1L1011.2 1025.7L1012.3 1023.7L1013.4 1026.6L1014.5 1024.1L1015.6 1025.8L1016.7 1026.6L1017.8 1025.7L1018.9 1022.9L1020 1023.1L1021.1 1025L1022.2 1025.3L1023.3 1023.6L1024.4 1023.2L1025.5 1025.7L1026.6 1025.3L1027.7 1023.2L1028.8 1022.2L1029.9 1023.4L1031 1020.7L1032.1 1022.5L1033.2 1022.4L1034.3 1023.6L1035.4 1022.6L1036.5 1019.3L1037.6 1024.2L1038.7 1022.4L1039.8 1018.8L1040.9 1019.4L1042 1022.4L1043.1 1019.7L1044.2 1022.5L1045.3 1020L1046.4 1019.3L1047.5 1023.7L1048.6 1024L1049.7 1021.3L1050.8 1024L1051.9 1022.5L1053 1022.8L1054.1 1022L1055.2 1023.4L1056.3 1024.7L1057.4 1024.9L1058.5 1026L1059.6 1025.9L1060.7 1024.5L1061.8 1023.2L1062.9 1025.3L1064 1025.3L1065.1 1024.2L1066.2 1023.5L1067.3 1024.2L1068.4 1023.5L1069.5 1024.7L1070.6 1026.5L1071.7 1028.3L1072.8 1027.1L1073.9 1026.6L1075 1027L1076.1 1027.8L1077.2 1030.2L1078.3 1029.2L1079.4 1027.2L1080.5 1030.2L1081.6 1028.6L1082.7 1030.8L1083.8 1032.7L1084.9 1032.2L1086 1034L1087.1 1036.7L1088.2 1034.8L1089.3 1038.2L1090.4 1038.8L1091.5 1039.4L1092.6 1038.3L1093.7 1042.1L1094.8 1042.2L1095.9 1043.8L1097 1044L1098.1 1046.6L1099.2 1044L1100.3 1047.1L1101.4 1048.1L1102.5 1051L1103.6 1045.2L1104.7 1045.5L1105.8 1046.4L1106.9 1046.6L1108 1044.5L1109.1 1045.8L1110.2 1043.7L1111.3 1043.3L1112.4 1040.4L1113.5 1041.9L1114.6 1040.6L1115.7 1041.5L1116.8 1039.6L1117.9 1039.4L1119 1036.7L1120.1 1034L1121.2 1034.6L1122.3 1030.3L1123.4 1029.1L1124.5 1028.7L1125.6 1029.3L1126.7 1028.3L1127.8 1023.3L1128.9 1024L1130 1025L1131.1 1021.9L1132.2 1019.4L1133.3 1021L1134.4 1022.1L1135.5 1018.8L1136.6 1018.3L1137.7 1021.2L1138.8 1018.9L1139.9 1015.9L1141 1018.1L1142.1 1018.2L1143.2 1015.7L1144.3 1016L1145.4 1016.5L1146.5 1015.4L1147.6 1016.7L1148.7 1016.2L1149.8 1015.4L1150.9 1016L1152 1013.3L1153.1 1012.4L1154.2 1011.4L1155.3 1012.3L1156.4 1011.4L1157.5 1012.4L1158.6 1013.9L1159.7 1014.4L1160.8 1013.2L1161.9 1012.9L1163 1012.4L1164.1 1012.6L1165.2 1011.1L1166.3 1010.7L1167.4 1009.8L1168.5 1010.9L1169.6 1011.6L1170.7 1010.8L1171.8 1011.1L1172.9 1013.3L1174 1011.2L1175.1 1011.2L1176.2 1010.3L1177.3 1010.8L1178.4 1008.6L1179.5 1010.5L1180.6 1010.6L1181.7 1010.7L1182.8 1007.3L1183.9 1008.8L1185 1010.8L1186.1 1009.8L1187.2 1006.8L1188.3 1007.4L1189.4 1006.8L1190.5 1008.7L1191.6 1009.2L1192.7 1007.6L1193 1005.6" fill="none" stroke="#d40000" stroke-width="3.3" stroke-linejoin="round"/>
<path d="M676.8 952.9L677.9 952.2L679 952.9L680.1 952.5L681.2 951.3L682.3 953L683.4 952.1L684.5 952.5L685.6 953.2L686.7 952L687.8 951L688.9 951.1L690 952.2L691.1 950.3L692.2 951.4L693.3 951.4L694.4 950.2L695.5 950.9L696.6 951.1L697.7 950L698.8 950.1L699.9 950.6L701 949.2L702.1 949.3L703.2 950.5L704.3 949.7L705.4 948.5L706.5 949.3L707.6 950.5L708.7 947.9L709.8 949.4L710.9 949.2L712 948.4L713.1 948.8L714.2 947.7L715.3 949.1L716.4 949L717.5 947L718.6 947.3L719.7 947.3L720.8 946.6L721.9 947L723 945.8L724.1 946.7L725.2 945.9L726.3 945.8L727.4 945.9L728.5 945.9L729.6 944.3L730.7 945.2L731.8 945L732.9 943.9L734 944.7L735.1 942.6L736.2 942.3L737.3 942.5L738.4 941.2L739.5 942L740.6 940.6L741.7 941L742.8 938.4L743.9 937.7L745 938.6L746.1 936.1L747.2 936.8L748.3 934.6L749.4 934.4L750.5 934L751.6 932L752.7 930L753.8 929.2L754.9 928.9L756 926.7L757.1 925.5L758.2 923.4L759.3 921.8L760.4 919.7L761.5 917.3L762.6 916.5L763.7 914.4L764.8 910.9L765.9 910.3L767 908.9L768.1 907.4L769.2 902.7L770.3 901.3L771.4 899.1L772.5 896.6L773.6 893L774.7 891.3L775.8 888.2L776.9 886.1L778 883.4L779.1 881.7L780.2 879L781.3 877.4L782.4 875.2L783.5 874.3L784.6 873.4L785.7 871.1L786.8 869.6L787.9 869.2L789 868.5L790.1 867.6L791.2 869.1L792.3 869.3L793.4 871.1L794.5 871.3L795.6 873.2L796.7 874.3L797.8 874.9L798.9 876.6L800 878.3L801.1 880.3L802.2 883.4L803.3 884.9L804.4 887.7L805.5 890.5L806.6 895.3L807.7 897.5L808.8 901.1L809.9 904L811 908L812.1 910.4L813.2 913.3L814.3 915.1L815.4 917.9L816.5 921.7L817.6 924.6L818.7 925.4L819.8 929L820.9 931.2L822 935.2L823.1 934.1L824.2 935.9L825.3 936.8L826.4 939.2L827.5 940.2L828.6 940.1L829.7 942.1L830.8 943.2L831.9 942.1L833 943.4L834.1 943.3L835.2 943.4L836.3 943.7L837.4 944L838.5 943.3L839.6 944.1L840.7 944.6L841.8 943.1L842.9 943.1L844 942.5L845.1 943L846.2 942.3L847.3 942.5L848.4 941.2L849.5 939.9L850.6 940.7L851.7 939.6L852.8 939.9L853.9 938.9L855 935.6L856.1 935.1L857.2 935.4L858.3 933.6L859.4 931.3L860.5 931.3L861.6 931.3L862.7 929.6L863.8 927.3L864.9 927.1L866 926.6L867.1 924.8L868.2 925.2L869.3 922.6L870.4 923.6L871.5 922.2L872.6 920.4L873.7 919L874.8 917.4L875.9 915.1L877 914.4L878.1 912L879.2 908.5L880.3 904.5L881.4 900.3L882.5 895.3L883.6 891.1L884.7 886L885.8 882.9L886.9 877.4L888 873.9L889.1 867.9L890.2 864.2L891.3 859.2L892.4 854L893.5 848.6L894.6 842.7L895.7 838L896.8 833.3L897.9 829.7L899 826.6L900.1 821.1L901.2 820.6L902.3 816.3L903.4 814.3L904.5 814.4L905.6 814.9L906.7 814.7L907.8 816L908.9 820.4L910 821.9L911.1 827.9L912.2 833L913.3 839.4L914.4 847.7L915.5 856.2L916.6 866.9L917.7 879.7L918.8 891.4L919.9 905.2L921 921.5L922.1 937.4L923.2 952.7L924.3 967.1L925.4 979.1L926.5 990.1L927.6 998.9L928.7 1005.9L929.8 1015.8L930.9 1023.3L932 1031.2L933.1 1037L934.2 1045.9L935.3 1052L936.4 1058.6L937.5 1066L938.6 1073.3L939.7 1078.7L940.8 1084.6L941.9 1088.8L943 1094.4L944.1 1099L945.2 1101.5L946.3 1105.9L947.4 1107.8L948.5 1111.5L949.6 1111.9L950.7 1113.6L951.8 1112.4L952.9 1110L954 1108.8L955.1 1105.3L956.2 1103.1L957.3 1099.1L958.4 1096.3L959.5 1091.4L960.6 1088L961.7 1082.1L962.8 1076.7L963.9 1069.8L965 1064.1L966.1 1060.1L967.2 1057.5L968.3 1051.3L969.4 1048.7L970.5 1044.8L971.6 1039.7L972.7 1036.4L973.8 1034L974.9 1029.7L976 1026.6L977.1 1023.7L978.2 1021.5L979.3 1018.9L980.4 1017.4L981.5 1014.3L982.6 1012.7L983.7 1009.6L984.8 1009.3L985.9 1005.5L987 1003.6L988.1 1001.3L989.2 998.9L990.3 997.8L991.4 997L992.5 994.6L993.6 994.5L994.7 991.4L995.8 990L996.9 990.2L998 989.1L999.1 987L1000.2 987.6L1001.3 986.9L1002.4 985.4L1003.5 983.5L1004.6 984.6L1005.7 982.8L1006.8 982.3L1007.9 982.2L1009 980.8L1010.1 981.8L1011.2 979.9L1012.3 980.7L1013.4 980.2L1014.5 980.7L1015.6 979.5L1016.7 979.6L1017.8 978.5L1018.9 978.4L1020 977.9L1021.1 978.7L1022.2 977.5L1023.3 978.9L1024.4 977.6L1025.5 976.6L1026.6 976.8L1027.7 978L1028.8 976.7L1029.9 977.3L1031 975.6L1032.1 976.9L1033.2 977L1034.3 976.8L1035.4 976.9L1036.5 975.5L1037.6 975L1038.7 975.2L1039.8 976.6L1040.9 976.2L1042 976.5L1043.1 975.5L1044.2 976.4L1045.3 974.8L1046.4 976.1L1047.5 975.2L1048.6 975.6L1049.7 976.4L1050.8 976.7L1051.9 976L1053 976L1054.1 977.3L1055.2 977.2L1056.3 976.2L1057.4 977L1058.5 976.8L1059.6 977.9L1060.7 977.7L1061.8 977.9L1062.9 977.9L1064 977.7L1065.1 979L1066.2 978.8L1067.3 977.2L1068.4 978.8L1069.5 979.5L1070.6 979.1L1071.7 979.2L1072.8 979.7L1073.9 980.7L1075 980L1076.1 981.3L1077.2 982.3L1078.3 982.4L1079.4 982.9L1080.5 982.6L1081.6 984.1L1082.7 983.8L1083.8 985L1084.9 984.2L1086 986.5L1087.1 985.8L1088.2 986.9L1089.3 988.2L1090.4 988L1091.5 988.3L1092.6 989.1L1093.7 990.5L1094.8 991.1L1095.9 991.4L1097 991.1L1098.1 992L1099.2 993.3L1100.3 994L1101.4 993.6L1102.5 994.1L1103.6 995.6L1104.7 996.2L1105.8 995.8L1106.9 995.1L1108 997L1109.1 995.8L1110.2 995.8L1111.3 993.4L1112.4 993.8L1113.5 993.5L1114.6 993.1L1115.7 991.4L1116.8 990.2L1117.9 989.3L1119 989.4L1120.1 989L1121.2 988.1L1122.3 985.8L1123.4 985.5L1124.5 984.9L1125.6 984.7L1126.7 983.4L1127.8 982.2L1128.9 979.9L1130 980.9L1131.1 979.2L1132.2 978.6L1133.3 977.2L1134.4 976.8L1135.5 975.9L1136.6 975.1L1137.7 974.1L1138.8 974.4L1139.9 973.9L1141 972.2L1142.1 971.4L1143.2 970.8L1144.3 970.5L1145.4 971.2L1146.5 969.6L1147.6 970.5L1148.7 967.9L1149.8 967.7L1150.9 967.5L1152 967.2L1153.1 967.7L1154.2 968.4L1155.3 966.4L1156.4 966.9L1157.5 967.3L1158.6 967.8L1159.7 966.1L1160.8 966.4L1161.9 966.4L1163 965.3L1164.1 965.5L1165.2 964.6L1166.3 964.1L1167.4 964.1L1168.5 965.1L1169.6 965.1L1170.7 964.2L1171.8 963L1172.9 964.5L1174 963.5L1175.1 964.3L1176.2 963.2L1177.3 962.2L1178.4 962.6L1179.5 962.2L1180.6 963.6L1181.7 960.8L1182.8 961.8L1183.9 961.8L1185 960.5L1186.1 962.1L1187.2 962.1L1188.3 962.1L1189.4 962L1190.5 961.2L1191.6 961.8L1192.7 960.8L1193 961.1" fill="none" stroke="#000" stroke-width="3.3" stroke-linejoin="round"/>
<path d="M800 807.4H926.5M1009 807.4H1097M789.8 808.5V881M1107.8 808.5V994.7" fill="none" stroke="#000" stroke-width="2" stroke-dasharray="9.6 5.6"/>
<path d="M789.8 807.4L801 803.5L801 811.3Z M1107.8 807.4L1096.5 803.5L1096.5 811.3Z" fill="#000"/>
<text transform="translate(930.63 815.30) scale(0.3130 0.3086)" font-family="Liberation Sans" font-weight="normal" font-style="normal" font-size="100" fill="#000" >2</text>
<path d="M955.3 799L949.3 809.3L955.3 819.6M1000 799L1006 809.3L1000 819.6" fill="none" stroke="#000" stroke-width="1.3"/>
<text transform="translate(958.23 815.30) scale(0.3061 0.3203)" font-family="Liberation Sans" font-weight="normal" font-style="italic" font-size="100" fill="#000" >A</text>
<text transform="translate(977.74 825.40) scale(0.1701 0.1957)" font-family="Liberation Sans" font-weight="normal" font-style="italic" font-size="100" fill="#000" >ZZ</text>
</svg>
</body></html>
